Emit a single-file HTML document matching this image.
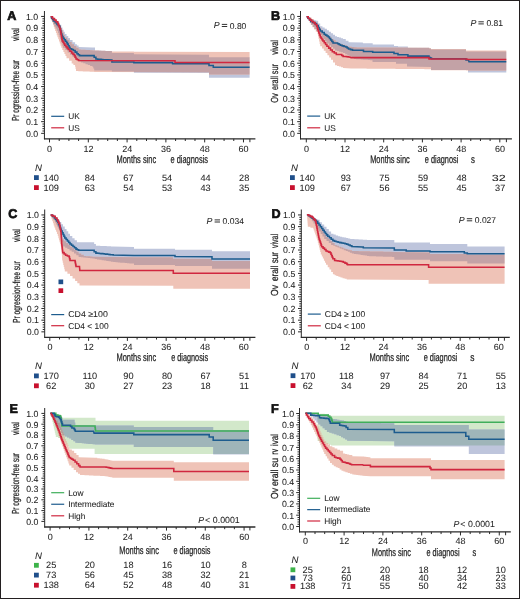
<!DOCTYPE html>
<html><head><meta charset="utf-8"><style>
html,body{margin:0;padding:0;background:#fff;}
#w{position:relative;width:520px;height:599px;overflow:hidden;background:#fff;}
#w svg{position:absolute;left:0;top:0;will-change:transform;}
#bd{position:absolute;left:0;top:0;width:520px;height:599px;box-sizing:border-box;border:1px solid #231f20;border-bottom-width:1px;}
text{font-family:"Liberation Sans", sans-serif;fill:#1e1e1e;stroke:#222;stroke-width:0.06px;text-rendering:geometricPrecision;}
</style></head><body><div id="w">
<svg width="520" height="599" viewBox="0 0 520 599" style="isolation:isolate">
<clipPath id="c1"><polygon points="50.60,16.70 53.00,16.70 53.00,18.50 55.00,18.50 55.00,20.25 57.00,20.25 57.00,22.00 59.15,22.00 59.15,24.75 61.30,24.75 61.30,27.50 62.47,27.50 62.47,29.67 63.63,29.67 63.63,31.83 64.80,31.83 64.80,34.00 66.53,34.00 66.53,36.00 68.27,36.00 68.27,38.00 70.00,38.00 70.00,40.00 72.55,40.00 72.55,42.15 75.10,42.15 75.10,44.30 76.85,44.30 76.85,45.60 78.60,45.60 78.60,46.90 92.40,47.40 95.00,47.40 95.00,50.40 97.11,50.40 97.11,50.50 99.22,50.50 99.22,50.60 101.34,50.60 101.34,50.70 103.45,50.70 103.45,50.80 105.56,50.80 105.56,50.90 107.68,50.90 107.68,51.00 109.79,51.00 109.79,51.10 111.90,51.10 111.90,51.20 111.90,53.10 133.90,53.10 133.90,54.20 209.00,54.70 209.00,57.30 249.60,57.30 249.60,77.70 209.00,77.70 209.00,72.90 133.90,72.70 133.90,71.50 111.90,71.50 111.90,70.40 94.20,70.40 94.20,68.60 93.30,68.60 93.30,66.80 92.40,66.80 92.40,65.93 90.10,65.93 90.10,65.07 87.80,65.07 87.80,64.20 85.50,64.20 85.50,63.33 83.20,63.33 83.20,62.47 80.90,62.47 80.90,61.60 78.60,61.60 78.60,59.88 76.45,59.88 76.45,58.15 74.30,58.15 74.30,56.43 72.15,56.43 72.15,54.70 70.00,54.70 70.00,52.40 67.67,52.40 67.67,50.10 65.33,50.10 65.33,47.80 63.00,47.80 63.00,45.69 62.29,45.69 62.29,43.57 61.57,43.57 61.57,41.46 60.86,41.46 60.86,39.34 60.14,39.34 60.14,37.23 59.43,37.23 59.43,35.11 58.71,35.11 58.71,33.00 58.00,33.00 58.00,30.80 56.80,30.80 56.80,28.60 55.60,28.60 55.60,26.40 54.40,26.40 54.40,24.20 53.20,24.20 53.20,22.00 52.00,22.00 52.00,19.35 51.30,19.35 51.30,16.70 50.60,16.70"/></clipPath>
<polygon points="50.60,16.70 53.00,16.70 53.00,18.50 55.00,18.50 55.00,20.25 57.00,20.25 57.00,22.00 59.15,22.00 59.15,24.75 61.30,24.75 61.30,27.50 62.47,27.50 62.47,29.67 63.63,29.67 63.63,31.83 64.80,31.83 64.80,34.00 66.53,34.00 66.53,36.00 68.27,36.00 68.27,38.00 70.00,38.00 70.00,40.00 72.55,40.00 72.55,42.15 75.10,42.15 75.10,44.30 76.85,44.30 76.85,45.60 78.60,45.60 78.60,46.90 92.40,47.40 95.00,47.40 95.00,50.40 97.11,50.40 97.11,50.50 99.22,50.50 99.22,50.60 101.34,50.60 101.34,50.70 103.45,50.70 103.45,50.80 105.56,50.80 105.56,50.90 107.68,50.90 107.68,51.00 109.79,51.00 109.79,51.10 111.90,51.10 111.90,51.20 111.90,53.10 133.90,53.10 133.90,54.20 209.00,54.70 209.00,57.30 249.60,57.30 249.60,77.70 209.00,77.70 209.00,72.90 133.90,72.70 133.90,71.50 111.90,71.50 111.90,70.40 94.20,70.40 94.20,68.60 93.30,68.60 93.30,66.80 92.40,66.80 92.40,65.93 90.10,65.93 90.10,65.07 87.80,65.07 87.80,64.20 85.50,64.20 85.50,63.33 83.20,63.33 83.20,62.47 80.90,62.47 80.90,61.60 78.60,61.60 78.60,59.88 76.45,59.88 76.45,58.15 74.30,58.15 74.30,56.43 72.15,56.43 72.15,54.70 70.00,54.70 70.00,52.40 67.67,52.40 67.67,50.10 65.33,50.10 65.33,47.80 63.00,47.80 63.00,45.69 62.29,45.69 62.29,43.57 61.57,43.57 61.57,41.46 60.86,41.46 60.86,39.34 60.14,39.34 60.14,37.23 59.43,37.23 59.43,35.11 58.71,35.11 58.71,33.00 58.00,33.00 58.00,30.80 56.80,30.80 56.80,28.60 55.60,28.60 55.60,26.40 54.40,26.40 54.40,24.20 53.20,24.20 53.20,22.00 52.00,22.00 52.00,19.35 51.30,19.35 51.30,16.70 50.60,16.70" fill="#bec5dc"/>
<polygon points="50.60,16.70 52.30,16.70 52.30,17.60 54.00,17.60 54.00,18.50 55.87,18.50 55.87,20.77 57.73,20.77 57.73,23.03 59.60,23.03 59.60,25.30 60.64,25.30 60.64,27.72 61.68,27.72 61.68,30.14 62.72,30.14 62.72,32.56 63.76,32.56 63.76,34.98 64.80,34.98 64.80,37.40 67.10,37.40 67.10,39.70 69.40,39.70 69.40,42.00 71.70,42.00 71.70,44.30 74.00,44.30 74.00,46.03 76.30,46.03 76.30,47.77 78.60,47.77 78.60,49.50 80.90,49.50 80.90,49.65 83.20,49.65 83.20,49.80 85.50,49.80 85.50,49.95 87.80,49.95 87.80,50.10 90.10,50.10 90.10,50.25 92.40,50.25 92.40,50.40 94.57,50.40 94.57,50.49 96.73,50.49 96.73,50.58 98.90,50.58 98.90,50.67 101.07,50.67 101.07,50.76 103.23,50.76 103.23,50.84 105.40,50.84 105.40,50.93 107.57,50.93 107.57,51.02 109.73,51.02 109.73,51.11 111.90,51.11 111.90,51.20 111.90,51.50 133.90,51.50 133.90,51.80 249.60,52.10 249.60,74.60 209.00,74.60 209.00,72.30 94.20,71.90 94.20,71.80 91.92,71.80 91.92,71.70 89.65,71.70 89.65,71.60 87.38,71.60 87.38,71.50 85.10,71.50 85.10,71.40 82.83,71.40 82.83,71.30 80.55,71.30 80.55,71.20 78.28,71.20 78.28,71.10 76.00,71.10 76.00,68.95 75.55,68.95 75.55,66.80 75.10,66.80 75.10,65.10 73.40,65.10 73.40,63.40 71.70,63.40 71.70,60.80 69.10,60.80 69.10,58.20 66.50,58.20 66.50,56.12 65.46,56.12 65.46,54.04 64.42,54.04 64.42,51.96 63.38,51.96 63.38,49.88 62.34,49.88 62.34,47.80 61.30,47.80 61.30,45.69 60.53,45.69 60.53,43.58 59.77,43.58 59.77,41.47 59.00,41.47 59.00,39.36 58.23,39.36 58.23,37.24 57.47,37.24 57.47,35.13 56.70,35.13 56.70,33.02 55.93,33.02 55.93,30.91 55.17,30.91 55.17,28.80 54.40,28.80 54.40,26.72 53.70,26.72 53.70,24.64 53.00,24.64 53.00,22.56 52.30,22.56 52.30,20.48 51.60,20.48 51.60,18.40 50.90,18.40 50.60,16.70" fill="#efc3b7"/>
<g clip-path="url(#c1)"><polygon points="50.60,16.70 52.30,16.70 52.30,17.60 54.00,17.60 54.00,18.50 55.87,18.50 55.87,20.77 57.73,20.77 57.73,23.03 59.60,23.03 59.60,25.30 60.64,25.30 60.64,27.72 61.68,27.72 61.68,30.14 62.72,30.14 62.72,32.56 63.76,32.56 63.76,34.98 64.80,34.98 64.80,37.40 67.10,37.40 67.10,39.70 69.40,39.70 69.40,42.00 71.70,42.00 71.70,44.30 74.00,44.30 74.00,46.03 76.30,46.03 76.30,47.77 78.60,47.77 78.60,49.50 80.90,49.50 80.90,49.65 83.20,49.65 83.20,49.80 85.50,49.80 85.50,49.95 87.80,49.95 87.80,50.10 90.10,50.10 90.10,50.25 92.40,50.25 92.40,50.40 94.57,50.40 94.57,50.49 96.73,50.49 96.73,50.58 98.90,50.58 98.90,50.67 101.07,50.67 101.07,50.76 103.23,50.76 103.23,50.84 105.40,50.84 105.40,50.93 107.57,50.93 107.57,51.02 109.73,51.02 109.73,51.11 111.90,51.11 111.90,51.20 111.90,51.50 133.90,51.50 133.90,51.80 249.60,52.10 249.60,74.60 209.00,74.60 209.00,72.30 94.20,71.90 94.20,71.80 91.92,71.80 91.92,71.70 89.65,71.70 89.65,71.60 87.38,71.60 87.38,71.50 85.10,71.50 85.10,71.40 82.83,71.40 82.83,71.30 80.55,71.30 80.55,71.20 78.28,71.20 78.28,71.10 76.00,71.10 76.00,68.95 75.55,68.95 75.55,66.80 75.10,66.80 75.10,65.10 73.40,65.10 73.40,63.40 71.70,63.40 71.70,60.80 69.10,60.80 69.10,58.20 66.50,58.20 66.50,56.12 65.46,56.12 65.46,54.04 64.42,54.04 64.42,51.96 63.38,51.96 63.38,49.88 62.34,49.88 62.34,47.80 61.30,47.80 61.30,45.69 60.53,45.69 60.53,43.58 59.77,43.58 59.77,41.47 59.00,41.47 59.00,39.36 58.23,39.36 58.23,37.24 57.47,37.24 57.47,35.13 56.70,35.13 56.70,33.02 55.93,33.02 55.93,30.91 55.17,30.91 55.17,28.80 54.40,28.80 54.40,26.72 53.70,26.72 53.70,24.64 53.00,24.64 53.00,22.56 52.30,22.56 52.30,20.48 51.60,20.48 51.60,18.40 50.90,18.40 50.60,16.70" fill="#c3a2a6"/></g>
<polyline points="50.60,16.70 51.57,16.70 51.57,18.13 52.53,18.13 52.53,19.57 53.50,19.57 53.50,21.00 55.25,21.00 55.25,22.70 57.00,22.70 57.00,24.40 58.30,24.40 58.30,25.70 59.60,25.70 59.60,27.00 60.02,27.00 60.02,28.75 60.45,28.75 60.45,30.50 60.88,30.50 60.88,32.25 61.30,32.25 61.30,34.00 61.87,34.00 61.87,35.43 62.43,35.43 62.43,36.87 63.00,36.87 63.00,38.30 64.17,38.30 64.17,39.73 65.33,39.73 65.33,41.17 66.50,41.17 66.50,42.60 67.38,42.60 67.38,44.12 68.25,44.12 68.25,45.65 69.12,45.65 69.12,47.18 70.00,47.18 70.00,48.70 71.70,48.70 71.70,49.55 73.40,49.55 73.40,50.40 75.15,50.40 75.15,52.10 76.90,52.10 76.90,53.80 78.20,53.80 78.20,54.70 79.50,54.70 79.50,55.60 92.40,55.60 94.15,55.60 94.15,57.30 95.90,57.30 95.90,59.00 97.62,59.00 97.62,59.15 99.35,59.15 99.35,59.30 101.08,59.30 101.08,59.45 102.80,59.45 102.80,59.60 111.90,60.00 111.90,61.90 133.90,61.90 133.90,62.60 172.60,62.60 172.60,63.70 209.00,63.70 209.00,65.40 213.30,65.40 213.30,67.20 249.60,67.20" fill="none" stroke="#1d5c8e" stroke-width="1.55" stroke-linejoin="miter"/>
<polyline points="50.60,16.70 52.50,16.70 52.50,18.40 54.40,18.40 54.40,20.10 56.10,20.10 56.10,21.85 57.80,21.85 57.80,23.60 58.45,23.60 58.45,25.33 59.10,25.33 59.10,27.05 59.75,27.05 59.75,28.77 60.40,28.77 60.40,30.50 60.70,30.50 60.70,32.23 61.00,32.23 61.00,33.97 61.30,33.97 61.30,35.70 61.60,35.70 61.60,37.43 61.90,37.43 61.90,39.17 62.20,39.17 62.20,40.90 63.07,40.90 63.07,42.33 63.93,42.33 63.93,43.77 64.80,43.77 64.80,45.20 65.93,45.20 65.93,46.63 67.07,46.63 67.07,48.07 68.20,48.07 68.20,49.50 69.95,49.50 69.95,51.25 71.70,51.25 71.70,53.00 73.00,53.00 73.00,54.30 74.30,54.30 74.30,55.60 75.15,55.60 75.15,57.30 76.00,57.30 76.00,59.00 77.30,59.00 77.30,59.75 78.60,59.75 78.60,60.50 175.00,60.80 175.00,62.40 249.60,62.40" fill="none" stroke="#d0273f" stroke-width="1.55" stroke-linejoin="miter"/>
<line x1="44.45" y1="11.00" x2="44.45" y2="139.30" stroke="#2a2a2a" stroke-width="1.0"/>
<line x1="43.95" y1="138.80" x2="255.40" y2="138.80" stroke="#2a2a2a" stroke-width="1.3"/>
<path d="M41.15 133.35H44.45M42.45 131.01H44.45M42.45 128.67H44.45M42.45 126.34H44.45M42.45 124.00H44.45M41.15 121.66H44.45M42.45 119.32H44.45M42.45 116.98H44.45M42.45 114.65H44.45M42.45 112.31H44.45M41.15 109.97H44.45M42.45 107.63H44.45M42.45 105.29H44.45M42.45 102.96H44.45M42.45 100.62H44.45M41.15 98.28H44.45M42.45 95.94H44.45M42.45 93.60H44.45M42.45 91.27H44.45M42.45 88.93H44.45M41.15 86.59H44.45M42.45 84.25H44.45M42.45 81.91H44.45M42.45 79.58H44.45M42.45 77.24H44.45M41.15 74.90H44.45M42.45 72.56H44.45M42.45 70.22H44.45M42.45 67.89H44.45M42.45 65.55H44.45M41.15 63.21H44.45M42.45 60.87H44.45M42.45 58.53H44.45M42.45 56.20H44.45M42.45 53.86H44.45M41.15 51.52H44.45M42.45 49.18H44.45M42.45 46.84H44.45M42.45 44.51H44.45M42.45 42.17H44.45M41.15 39.83H44.45M42.45 37.49H44.45M42.45 35.15H44.45M42.45 32.82H44.45M42.45 30.48H44.45M41.15 28.14H44.45M42.45 25.80H44.45M42.45 23.46H44.45M42.45 21.13H44.45M42.45 18.79H44.45M41.15 16.45H44.45M49.50 138.80V142.40M59.20 138.80V141.00M68.90 138.80V141.00M78.60 138.80V141.00M88.30 138.80V142.40M98.00 138.80V141.00M107.69 138.80V141.00M117.39 138.80V141.00M127.09 138.80V142.40M136.79 138.80V141.00M146.49 138.80V141.00M156.19 138.80V141.00M165.89 138.80V142.40M175.59 138.80V141.00M185.29 138.80V141.00M194.99 138.80V141.00M204.68 138.80V142.40M214.38 138.80V141.00M224.08 138.80V141.00M233.78 138.80V141.00M243.48 138.80V142.40M249.90 138.80V142.20" stroke="#2a2a2a" stroke-width="1" fill="none"/>
<text x="38.15" y="136.65" font-size="8.8" text-anchor="end" >0.0</text>
<text x="38.15" y="124.96" font-size="8.8" text-anchor="end" >0.1</text>
<text x="38.15" y="113.27" font-size="8.8" text-anchor="end" >0.2</text>
<text x="38.15" y="101.58" font-size="8.8" text-anchor="end" >0.3</text>
<text x="38.15" y="89.89" font-size="8.8" text-anchor="end" >0.4</text>
<text x="38.15" y="78.20" font-size="8.8" text-anchor="end" >0.5</text>
<text x="38.15" y="66.51" font-size="8.8" text-anchor="end" >0.6</text>
<text x="38.15" y="54.82" font-size="8.8" text-anchor="end" >0.7</text>
<text x="38.15" y="43.13" font-size="8.8" text-anchor="end" >0.8</text>
<text x="38.15" y="31.44" font-size="8.8" text-anchor="end" >0.9</text>
<text x="38.15" y="19.75" font-size="8.8" text-anchor="end" >1.0</text>
<text x="49.60" y="151.50" font-size="9.0" text-anchor="middle" >0</text>
<text x="88.40" y="151.50" font-size="9.0" text-anchor="middle" >12</text>
<text x="127.19" y="151.50" font-size="9.0" text-anchor="middle" >24</text>
<text x="165.99" y="151.50" font-size="9.0" text-anchor="middle" >36</text>
<text x="204.78" y="151.50" font-size="9.0" text-anchor="middle" >48</text>
<text x="243.58" y="151.50" font-size="9.0" text-anchor="middle" >60</text>
<clipPath id="c2"><polygon points="306.50,16.70 308.00,16.70 308.00,18.70 310.05,18.70 310.05,19.23 312.10,19.23 312.10,19.75 314.15,19.75 314.15,20.27 316.20,20.27 316.20,20.80 318.20,20.80 318.20,23.50 320.20,23.50 320.20,26.20 322.43,26.20 322.43,27.53 324.67,27.53 324.67,28.87 326.90,28.87 326.90,30.20 328.93,30.20 328.93,31.70 330.95,31.70 330.95,33.20 332.98,33.20 332.98,34.70 335.00,34.70 335.00,36.20 337.00,36.20 337.00,36.90 339.00,36.90 339.00,37.60 341.00,37.60 341.00,38.30 343.00,38.30 343.00,39.00 345.75,39.00 345.75,40.65 348.50,40.65 348.50,42.30 362.90,42.50 362.90,43.30 372.70,43.30 372.70,44.50 394.00,44.50 394.00,46.00 398.00,46.00 398.00,46.50 407.90,46.50 407.90,47.70 427.50,47.70 429.25,47.70 429.25,48.60 431.00,48.60 431.00,49.50 465.00,49.50 466.00,49.50 466.00,51.40 506.30,51.40 506.30,72.60 468.00,72.60 468.00,70.10 466.00,70.10 431.00,70.10 431.00,67.00 407.00,66.50 407.00,63.70 396.00,63.70 396.00,62.00 372.50,62.00 372.50,60.30 372.50,60.14 370.16,60.14 370.16,59.97 367.82,59.97 367.82,59.81 365.49,59.81 365.49,59.65 363.15,59.65 363.15,59.49 360.81,59.49 360.81,59.33 358.48,59.33 358.48,59.16 356.14,59.16 356.14,59.00 353.80,59.00 353.80,57.80 351.64,57.80 351.64,56.60 349.48,56.60 349.48,55.40 347.32,55.40 347.32,54.20 345.16,54.20 345.16,53.00 343.00,53.00 343.00,52.35 341.00,52.35 341.00,51.70 339.00,51.70 339.00,51.05 337.00,51.05 337.00,50.40 335.00,50.40 335.00,48.70 332.98,48.70 332.98,47.00 330.95,47.00 330.95,45.30 328.93,45.30 328.93,43.60 326.90,43.60 326.90,41.48 325.12,41.48 325.12,39.36 323.34,39.36 323.34,37.24 321.56,37.24 321.56,35.12 319.78,35.12 319.78,33.00 318.00,33.00 318.00,31.00 316.25,31.00 316.25,29.00 314.50,29.00 314.50,27.00 312.75,27.00 312.75,25.00 311.00,25.00 311.00,22.93 309.88,22.93 309.88,20.85 308.75,20.85 308.75,18.77 307.62,18.77 307.62,16.70 306.50,16.70"/></clipPath>
<polygon points="306.50,16.70 308.00,16.70 308.00,18.70 310.05,18.70 310.05,19.23 312.10,19.23 312.10,19.75 314.15,19.75 314.15,20.27 316.20,20.27 316.20,20.80 318.20,20.80 318.20,23.50 320.20,23.50 320.20,26.20 322.43,26.20 322.43,27.53 324.67,27.53 324.67,28.87 326.90,28.87 326.90,30.20 328.93,30.20 328.93,31.70 330.95,31.70 330.95,33.20 332.98,33.20 332.98,34.70 335.00,34.70 335.00,36.20 337.00,36.20 337.00,36.90 339.00,36.90 339.00,37.60 341.00,37.60 341.00,38.30 343.00,38.30 343.00,39.00 345.75,39.00 345.75,40.65 348.50,40.65 348.50,42.30 362.90,42.50 362.90,43.30 372.70,43.30 372.70,44.50 394.00,44.50 394.00,46.00 398.00,46.00 398.00,46.50 407.90,46.50 407.90,47.70 427.50,47.70 429.25,47.70 429.25,48.60 431.00,48.60 431.00,49.50 465.00,49.50 466.00,49.50 466.00,51.40 506.30,51.40 506.30,72.60 468.00,72.60 468.00,70.10 466.00,70.10 431.00,70.10 431.00,67.00 407.00,66.50 407.00,63.70 396.00,63.70 396.00,62.00 372.50,62.00 372.50,60.30 372.50,60.14 370.16,60.14 370.16,59.97 367.82,59.97 367.82,59.81 365.49,59.81 365.49,59.65 363.15,59.65 363.15,59.49 360.81,59.49 360.81,59.33 358.48,59.33 358.48,59.16 356.14,59.16 356.14,59.00 353.80,59.00 353.80,57.80 351.64,57.80 351.64,56.60 349.48,56.60 349.48,55.40 347.32,55.40 347.32,54.20 345.16,54.20 345.16,53.00 343.00,53.00 343.00,52.35 341.00,52.35 341.00,51.70 339.00,51.70 339.00,51.05 337.00,51.05 337.00,50.40 335.00,50.40 335.00,48.70 332.98,48.70 332.98,47.00 330.95,47.00 330.95,45.30 328.93,45.30 328.93,43.60 326.90,43.60 326.90,41.48 325.12,41.48 325.12,39.36 323.34,39.36 323.34,37.24 321.56,37.24 321.56,35.12 319.78,35.12 319.78,33.00 318.00,33.00 318.00,31.00 316.25,31.00 316.25,29.00 314.50,29.00 314.50,27.00 312.75,27.00 312.75,25.00 311.00,25.00 311.00,22.93 309.88,22.93 309.88,20.85 308.75,20.85 308.75,18.77 307.62,18.77 307.62,16.70 306.50,16.70" fill="#bec5dc"/>
<polygon points="306.50,16.70 309.25,16.70 309.25,17.85 312.00,17.85 312.00,19.00 313.83,19.00 313.83,20.93 315.67,20.93 315.67,22.87 317.50,22.87 317.50,24.80 318.85,24.80 318.85,26.82 320.20,26.82 320.20,28.85 321.55,28.85 321.55,30.88 322.90,30.88 322.90,32.90 325.13,32.90 325.13,34.47 327.37,34.47 327.37,36.03 329.60,36.03 329.60,37.60 331.62,37.60 331.62,38.95 333.65,38.95 333.65,40.30 335.68,40.30 335.68,41.65 337.70,41.65 337.70,43.00 340.05,43.00 340.05,43.88 342.40,43.88 342.40,44.75 344.75,44.75 344.75,45.62 347.10,45.62 347.10,46.50 349.45,46.50 349.45,46.75 351.80,46.75 351.80,47.00 354.15,47.00 354.15,47.25 356.50,47.25 356.50,47.50 427.50,47.70 429.25,47.70 429.25,48.35 431.00,48.35 431.00,49.00 465.00,49.00 466.00,49.00 466.00,50.40 506.30,50.40 506.30,70.60 466.00,70.60 466.00,70.20 431.00,70.20 431.00,69.20 431.00,69.18 428.78,69.18 428.78,69.16 426.56,69.16 426.56,69.14 424.34,69.14 424.34,69.12 422.12,69.12 422.12,69.10 419.90,69.10 419.90,69.08 417.68,69.08 417.68,69.06 415.46,69.06 415.46,69.04 413.24,69.04 413.24,69.03 411.02,69.03 411.02,69.01 408.81,69.01 408.81,68.99 406.59,68.99 406.59,68.97 404.37,68.97 404.37,68.95 402.15,68.95 402.15,68.93 399.93,68.93 399.93,68.91 397.71,68.91 397.71,68.89 395.49,68.89 395.49,68.87 393.27,68.87 393.27,68.85 391.05,68.85 391.05,68.83 388.83,68.83 388.83,68.81 386.61,68.81 386.61,68.79 384.39,68.79 384.39,68.77 382.17,68.77 382.17,68.75 379.95,68.75 379.95,68.73 377.73,68.73 377.73,68.71 375.51,68.71 375.51,68.69 373.29,68.69 373.29,68.67 371.07,68.67 371.07,68.66 368.86,68.66 368.86,68.64 366.64,68.64 366.64,68.62 364.42,68.62 364.42,68.60 362.20,68.60 362.20,68.58 359.98,68.58 359.98,68.56 357.76,68.56 357.76,68.54 355.54,68.54 355.54,68.52 353.32,68.52 353.32,68.50 351.10,68.50 343.00,67.90 343.00,67.23 341.00,67.23 341.00,66.55 339.00,66.55 339.00,65.88 337.00,65.88 337.00,65.20 335.00,65.20 335.00,62.50 333.00,62.50 333.00,59.80 331.00,59.80 331.00,57.53 329.20,57.53 329.20,55.27 327.40,55.27 327.40,53.00 325.60,53.00 325.60,50.77 323.80,50.77 323.80,48.53 322.00,48.53 322.00,46.30 320.20,46.30 320.20,43.88 319.66,43.88 319.66,41.46 319.12,41.46 319.12,39.04 318.58,39.04 318.58,36.62 318.04,36.62 318.04,34.20 317.50,34.20 317.50,31.85 315.82,31.85 315.82,29.50 314.15,29.50 314.15,27.15 312.48,27.15 312.48,24.80 310.80,24.80 310.80,22.77 309.73,22.77 309.73,20.75 308.65,20.75 308.65,18.73 307.57,18.73 307.57,16.70 306.50,16.70" fill="#efc3b7"/>
<g clip-path="url(#c2)"><polygon points="306.50,16.70 309.25,16.70 309.25,17.85 312.00,17.85 312.00,19.00 313.83,19.00 313.83,20.93 315.67,20.93 315.67,22.87 317.50,22.87 317.50,24.80 318.85,24.80 318.85,26.82 320.20,26.82 320.20,28.85 321.55,28.85 321.55,30.88 322.90,30.88 322.90,32.90 325.13,32.90 325.13,34.47 327.37,34.47 327.37,36.03 329.60,36.03 329.60,37.60 331.62,37.60 331.62,38.95 333.65,38.95 333.65,40.30 335.68,40.30 335.68,41.65 337.70,41.65 337.70,43.00 340.05,43.00 340.05,43.88 342.40,43.88 342.40,44.75 344.75,44.75 344.75,45.62 347.10,45.62 347.10,46.50 349.45,46.50 349.45,46.75 351.80,46.75 351.80,47.00 354.15,47.00 354.15,47.25 356.50,47.25 356.50,47.50 427.50,47.70 429.25,47.70 429.25,48.35 431.00,48.35 431.00,49.00 465.00,49.00 466.00,49.00 466.00,50.40 506.30,50.40 506.30,70.60 466.00,70.60 466.00,70.20 431.00,70.20 431.00,69.20 431.00,69.18 428.78,69.18 428.78,69.16 426.56,69.16 426.56,69.14 424.34,69.14 424.34,69.12 422.12,69.12 422.12,69.10 419.90,69.10 419.90,69.08 417.68,69.08 417.68,69.06 415.46,69.06 415.46,69.04 413.24,69.04 413.24,69.03 411.02,69.03 411.02,69.01 408.81,69.01 408.81,68.99 406.59,68.99 406.59,68.97 404.37,68.97 404.37,68.95 402.15,68.95 402.15,68.93 399.93,68.93 399.93,68.91 397.71,68.91 397.71,68.89 395.49,68.89 395.49,68.87 393.27,68.87 393.27,68.85 391.05,68.85 391.05,68.83 388.83,68.83 388.83,68.81 386.61,68.81 386.61,68.79 384.39,68.79 384.39,68.77 382.17,68.77 382.17,68.75 379.95,68.75 379.95,68.73 377.73,68.73 377.73,68.71 375.51,68.71 375.51,68.69 373.29,68.69 373.29,68.67 371.07,68.67 371.07,68.66 368.86,68.66 368.86,68.64 366.64,68.64 366.64,68.62 364.42,68.62 364.42,68.60 362.20,68.60 362.20,68.58 359.98,68.58 359.98,68.56 357.76,68.56 357.76,68.54 355.54,68.54 355.54,68.52 353.32,68.52 353.32,68.50 351.10,68.50 343.00,67.90 343.00,67.23 341.00,67.23 341.00,66.55 339.00,66.55 339.00,65.88 337.00,65.88 337.00,65.20 335.00,65.20 335.00,62.50 333.00,62.50 333.00,59.80 331.00,59.80 331.00,57.53 329.20,57.53 329.20,55.27 327.40,55.27 327.40,53.00 325.60,53.00 325.60,50.77 323.80,50.77 323.80,48.53 322.00,48.53 322.00,46.30 320.20,46.30 320.20,43.88 319.66,43.88 319.66,41.46 319.12,41.46 319.12,39.04 318.58,39.04 318.58,36.62 318.04,36.62 318.04,34.20 317.50,34.20 317.50,31.85 315.82,31.85 315.82,29.50 314.15,29.50 314.15,27.15 312.48,27.15 312.48,24.80 310.80,24.80 310.80,22.77 309.73,22.77 309.73,20.75 308.65,20.75 308.65,18.73 307.57,18.73 307.57,16.70 306.50,16.70" fill="#c3a2a6"/></g>
<polyline points="306.50,16.70 307.93,16.70 307.93,18.27 309.37,18.27 309.37,19.83 310.80,19.83 310.80,21.40 312.80,21.40 312.80,22.45 314.80,22.45 314.80,23.50 316.50,23.50 316.50,25.50 318.20,25.50 318.20,27.50 319.20,27.50 319.20,29.20 320.20,29.20 320.20,30.90 322.20,30.90 322.20,32.55 324.20,32.55 324.20,34.20 325.57,34.20 325.57,35.10 326.93,35.10 326.93,36.00 328.30,36.00 328.30,36.90 329.48,36.90 329.48,38.42 330.65,38.42 330.65,39.95 331.82,39.95 331.82,41.48 333.00,41.48 333.00,43.00 336.30,43.00 337.67,43.00 337.67,43.77 339.03,43.77 339.03,44.53 340.40,44.53 340.40,45.30 342.20,45.30 342.20,45.87 344.00,45.87 344.00,46.43 345.80,46.43 345.80,47.00 347.15,47.00 347.15,48.00 348.50,48.00 348.50,49.00 350.50,49.00 350.50,49.60 352.50,49.60 352.50,50.20 363.50,50.20 363.50,51.40 372.70,51.40 372.70,52.30 394.00,52.30 394.00,53.50 398.00,53.50 398.00,54.80 407.90,54.80 407.90,56.10 426.80,56.10 429.00,56.10 429.00,57.50 430.25,57.50 430.25,58.10 431.50,58.10 431.50,58.70 465.00,58.70 466.00,58.70 466.00,60.00 468.50,60.00 469.00,61.80 506.30,61.80" fill="none" stroke="#1d5c8e" stroke-width="1.55" stroke-linejoin="miter"/>
<polyline points="306.50,16.70 308.25,16.70 308.25,18.40 310.00,18.40 310.00,20.10 311.75,20.10 311.75,21.45 313.50,21.45 313.50,22.80 315.15,22.80 315.15,24.50 316.80,24.50 316.80,26.20 317.30,26.20 317.30,27.88 317.80,27.88 317.80,29.55 318.30,29.55 318.30,31.22 318.80,31.22 318.80,32.90 319.50,32.90 319.50,34.90 320.20,34.90 320.20,36.90 321.10,36.90 321.10,38.27 322.00,38.27 322.00,39.63 322.90,39.63 322.90,41.00 324.23,41.00 324.23,42.77 325.57,42.77 325.57,44.53 326.90,44.53 326.90,46.30 328.70,46.30 328.70,48.10 330.50,48.10 330.50,49.90 332.30,49.90 332.30,51.70 334.30,51.70 334.30,53.05 336.30,53.05 336.30,54.40 340.40,54.40 341.75,54.40 341.75,55.40 343.10,55.40 343.10,56.40 344.77,56.40 344.77,56.58 346.45,56.58 346.45,56.75 348.12,56.75 348.12,56.92 349.80,56.92 349.80,57.10 351.10,57.60 428.00,57.60 429.00,57.60 429.00,58.90 466.00,58.90 467.00,58.90 467.00,59.50 506.30,59.50" fill="none" stroke="#d0273f" stroke-width="1.55" stroke-linejoin="miter"/>
<line x1="300.50" y1="11.00" x2="300.50" y2="139.30" stroke="#2a2a2a" stroke-width="1.0"/>
<line x1="300.00" y1="138.80" x2="511.90" y2="138.80" stroke="#2a2a2a" stroke-width="1.3"/>
<path d="M297.20 133.35H300.50M298.50 131.01H300.50M298.50 128.67H300.50M298.50 126.34H300.50M298.50 124.00H300.50M297.20 121.66H300.50M298.50 119.32H300.50M298.50 116.98H300.50M298.50 114.65H300.50M298.50 112.31H300.50M297.20 109.97H300.50M298.50 107.63H300.50M298.50 105.29H300.50M298.50 102.96H300.50M298.50 100.62H300.50M297.20 98.28H300.50M298.50 95.94H300.50M298.50 93.60H300.50M298.50 91.27H300.50M298.50 88.93H300.50M297.20 86.59H300.50M298.50 84.25H300.50M298.50 81.91H300.50M298.50 79.58H300.50M298.50 77.24H300.50M297.20 74.90H300.50M298.50 72.56H300.50M298.50 70.22H300.50M298.50 67.89H300.50M298.50 65.55H300.50M297.20 63.21H300.50M298.50 60.87H300.50M298.50 58.53H300.50M298.50 56.20H300.50M298.50 53.86H300.50M297.20 51.52H300.50M298.50 49.18H300.50M298.50 46.84H300.50M298.50 44.51H300.50M298.50 42.17H300.50M297.20 39.83H300.50M298.50 37.49H300.50M298.50 35.15H300.50M298.50 32.82H300.50M298.50 30.48H300.50M297.20 28.14H300.50M298.50 25.80H300.50M298.50 23.46H300.50M298.50 21.13H300.50M298.50 18.79H300.50M297.20 16.45H300.50M306.30 138.80V142.40M315.98 138.80V141.00M325.65 138.80V141.00M335.32 138.80V141.00M345.00 138.80V142.40M354.68 138.80V141.00M364.35 138.80V141.00M374.02 138.80V141.00M383.70 138.80V142.40M393.38 138.80V141.00M403.05 138.80V141.00M412.73 138.80V141.00M422.40 138.80V142.40M432.07 138.80V141.00M441.75 138.80V141.00M451.43 138.80V141.00M461.10 138.80V142.40M470.77 138.80V141.00M480.45 138.80V141.00M490.12 138.80V141.00M499.80 138.80V142.40M506.40 138.80V142.20" stroke="#2a2a2a" stroke-width="1" fill="none"/>
<text x="295.00" y="136.65" font-size="8.8" text-anchor="end" >0.0</text>
<text x="295.00" y="124.96" font-size="8.8" text-anchor="end" >0.1</text>
<text x="295.00" y="113.27" font-size="8.8" text-anchor="end" >0.2</text>
<text x="295.00" y="101.58" font-size="8.8" text-anchor="end" >0.3</text>
<text x="295.00" y="89.89" font-size="8.8" text-anchor="end" >0.4</text>
<text x="295.00" y="78.20" font-size="8.8" text-anchor="end" >0.5</text>
<text x="295.00" y="66.51" font-size="8.8" text-anchor="end" >0.6</text>
<text x="295.00" y="54.82" font-size="8.8" text-anchor="end" >0.7</text>
<text x="295.00" y="43.13" font-size="8.8" text-anchor="end" >0.8</text>
<text x="295.00" y="31.44" font-size="8.8" text-anchor="end" >0.9</text>
<text x="295.00" y="19.75" font-size="8.8" text-anchor="end" >1.0</text>
<text x="306.40" y="151.50" font-size="9.0" text-anchor="middle" >0</text>
<text x="345.10" y="151.50" font-size="9.0" text-anchor="middle" >12</text>
<text x="383.80" y="151.50" font-size="9.0" text-anchor="middle" >24</text>
<text x="422.50" y="151.50" font-size="9.0" text-anchor="middle" >36</text>
<text x="461.20" y="151.50" font-size="9.0" text-anchor="middle" >48</text>
<text x="499.90" y="151.50" font-size="9.0" text-anchor="middle" >60</text>
<clipPath id="c3"><polygon points="50.60,215.00 51.80,215.40 53.80,215.40 53.80,216.83 55.80,216.83 55.80,218.27 57.80,218.27 57.80,219.70 59.53,219.70 59.53,222.00 61.27,222.00 61.27,224.30 63.00,224.30 63.00,226.60 64.75,226.60 64.75,228.97 66.50,228.97 66.50,231.35 68.25,231.35 68.25,233.72 70.00,233.72 70.00,236.10 72.30,236.10 72.30,238.13 74.60,238.13 74.60,240.17 76.90,240.17 76.90,242.20 92.40,242.20 94.15,242.20 94.15,243.95 95.90,243.95 95.90,245.70 98.06,245.70 98.06,245.80 100.23,245.80 100.23,245.90 102.39,245.90 102.39,246.00 104.55,246.00 104.55,246.10 106.71,246.10 106.71,246.20 108.88,246.20 108.88,246.30 111.04,246.30 111.04,246.40 113.20,246.40 113.20,246.50 134.00,247.00 134.00,248.70 175.00,248.70 175.00,249.70 212.00,249.70 212.00,251.30 250.00,251.30 250.00,268.70 212.00,268.70 212.00,266.00 175.00,266.00 175.00,265.10 134.00,265.10 134.00,263.80 134.00,263.61 131.69,263.61 131.69,263.42 129.38,263.42 129.38,263.23 127.07,263.23 127.07,263.04 124.76,263.04 124.76,262.86 122.44,262.86 122.44,262.67 120.13,262.67 120.13,262.48 117.82,262.48 117.82,262.29 115.51,262.29 115.51,262.10 113.20,262.10 113.20,261.71 110.89,261.71 110.89,261.32 108.58,261.32 108.58,260.93 106.27,260.93 106.27,260.54 103.96,260.54 103.96,260.16 101.64,260.16 101.64,259.77 99.33,259.77 99.33,259.38 97.02,259.38 97.02,258.99 94.71,258.99 94.71,258.60 92.40,258.60 92.40,258.32 90.10,258.32 90.10,258.03 87.80,258.03 87.80,257.75 85.50,257.75 85.50,257.47 83.20,257.47 83.20,257.18 80.90,257.18 80.90,256.90 78.60,256.90 78.60,255.17 76.30,255.17 76.30,253.43 74.00,253.43 74.00,251.70 71.70,251.70 71.70,250.40 69.53,250.40 69.53,249.10 67.35,249.10 67.35,247.80 65.17,247.80 65.17,246.50 63.00,246.50 63.00,244.17 62.50,244.17 62.50,241.83 62.00,241.83 62.00,239.50 61.50,239.50 61.50,237.17 61.00,237.17 61.00,234.83 60.50,234.83 60.50,232.50 60.00,232.50 60.00,230.50 59.00,230.50 59.00,228.50 58.00,228.50 58.00,226.50 57.00,226.50 57.00,224.50 56.00,224.50 56.00,222.50 55.00,222.50 55.00,220.00 53.53,220.00 53.53,217.50 52.07,217.50 52.07,215.00 50.60,215.00"/></clipPath>
<polygon points="50.60,215.00 51.80,215.40 53.80,215.40 53.80,216.83 55.80,216.83 55.80,218.27 57.80,218.27 57.80,219.70 59.53,219.70 59.53,222.00 61.27,222.00 61.27,224.30 63.00,224.30 63.00,226.60 64.75,226.60 64.75,228.97 66.50,228.97 66.50,231.35 68.25,231.35 68.25,233.72 70.00,233.72 70.00,236.10 72.30,236.10 72.30,238.13 74.60,238.13 74.60,240.17 76.90,240.17 76.90,242.20 92.40,242.20 94.15,242.20 94.15,243.95 95.90,243.95 95.90,245.70 98.06,245.70 98.06,245.80 100.23,245.80 100.23,245.90 102.39,245.90 102.39,246.00 104.55,246.00 104.55,246.10 106.71,246.10 106.71,246.20 108.88,246.20 108.88,246.30 111.04,246.30 111.04,246.40 113.20,246.40 113.20,246.50 134.00,247.00 134.00,248.70 175.00,248.70 175.00,249.70 212.00,249.70 212.00,251.30 250.00,251.30 250.00,268.70 212.00,268.70 212.00,266.00 175.00,266.00 175.00,265.10 134.00,265.10 134.00,263.80 134.00,263.61 131.69,263.61 131.69,263.42 129.38,263.42 129.38,263.23 127.07,263.23 127.07,263.04 124.76,263.04 124.76,262.86 122.44,262.86 122.44,262.67 120.13,262.67 120.13,262.48 117.82,262.48 117.82,262.29 115.51,262.29 115.51,262.10 113.20,262.10 113.20,261.71 110.89,261.71 110.89,261.32 108.58,261.32 108.58,260.93 106.27,260.93 106.27,260.54 103.96,260.54 103.96,260.16 101.64,260.16 101.64,259.77 99.33,259.77 99.33,259.38 97.02,259.38 97.02,258.99 94.71,258.99 94.71,258.60 92.40,258.60 92.40,258.32 90.10,258.32 90.10,258.03 87.80,258.03 87.80,257.75 85.50,257.75 85.50,257.47 83.20,257.47 83.20,257.18 80.90,257.18 80.90,256.90 78.60,256.90 78.60,255.17 76.30,255.17 76.30,253.43 74.00,253.43 74.00,251.70 71.70,251.70 71.70,250.40 69.53,250.40 69.53,249.10 67.35,249.10 67.35,247.80 65.17,247.80 65.17,246.50 63.00,246.50 63.00,244.17 62.50,244.17 62.50,241.83 62.00,241.83 62.00,239.50 61.50,239.50 61.50,237.17 61.00,237.17 61.00,234.83 60.50,234.83 60.50,232.50 60.00,232.50 60.00,230.50 59.00,230.50 59.00,228.50 58.00,228.50 58.00,226.50 57.00,226.50 57.00,224.50 56.00,224.50 56.00,222.50 55.00,222.50 55.00,220.00 53.53,220.00 53.53,217.50 52.07,217.50 52.07,215.00 50.60,215.00" fill="#bec5dc"/>
<polygon points="50.60,215.00 52.80,215.00 52.80,216.25 55.00,216.25 55.00,217.50 57.00,217.50 57.00,219.50 59.00,219.50 59.00,221.50 59.40,221.50 59.40,223.76 59.80,223.76 59.80,226.03 60.20,226.03 60.20,228.29 60.60,228.29 60.60,230.55 61.00,230.55 61.00,232.81 61.40,232.81 61.40,235.07 61.80,235.07 61.80,237.34 62.20,237.34 62.20,239.60 64.15,239.60 64.15,241.32 66.10,241.32 66.10,243.05 68.05,243.05 68.05,244.78 70.00,244.78 70.00,246.50 72.15,246.50 72.15,248.22 74.30,248.22 74.30,249.95 76.45,249.95 76.45,251.68 78.60,251.68 78.60,253.40 81.20,253.40 81.20,254.70 83.80,254.70 83.80,256.00 85.95,256.00 85.95,256.18 88.10,256.18 88.10,256.35 90.25,256.35 90.25,256.52 92.40,256.52 92.40,256.70 134.00,257.30 173.00,257.30 173.00,258.80 212.00,259.00 212.00,261.10 250.00,261.10 250.00,288.70 173.30,288.70 173.30,285.70 79.50,285.50 79.50,283.30 77.30,283.30 77.30,281.10 75.10,281.10 75.10,278.55 72.55,278.55 72.55,276.00 70.00,276.00 70.00,273.80 67.40,273.80 67.40,271.60 64.80,271.60 64.80,269.36 64.28,269.36 64.28,267.12 63.76,267.12 63.76,264.88 63.24,264.88 63.24,262.64 62.72,262.64 62.72,260.40 62.20,260.40 62.20,258.38 62.05,258.38 62.05,256.37 61.90,256.37 61.90,254.35 61.75,254.35 61.75,252.33 61.60,252.33 61.60,250.32 61.45,250.32 61.45,248.30 61.30,248.30 61.30,246.27 60.72,246.27 60.72,244.23 60.13,244.23 60.13,242.20 59.55,242.20 59.55,240.17 58.97,240.17 58.97,238.13 58.38,238.13 58.38,236.10 57.80,236.10 57.80,233.95 56.95,233.95 56.95,231.80 56.10,231.80 56.10,229.65 55.25,229.65 55.25,227.50 54.40,227.50 54.40,225.42 53.70,225.42 53.70,223.34 53.00,223.34 53.00,221.26 52.30,221.26 52.30,219.18 51.60,219.18 51.60,217.10 50.90,217.10 50.60,215.00" fill="#efc3b7"/>
<g clip-path="url(#c3)"><polygon points="50.60,215.00 52.80,215.00 52.80,216.25 55.00,216.25 55.00,217.50 57.00,217.50 57.00,219.50 59.00,219.50 59.00,221.50 59.40,221.50 59.40,223.76 59.80,223.76 59.80,226.03 60.20,226.03 60.20,228.29 60.60,228.29 60.60,230.55 61.00,230.55 61.00,232.81 61.40,232.81 61.40,235.07 61.80,235.07 61.80,237.34 62.20,237.34 62.20,239.60 64.15,239.60 64.15,241.32 66.10,241.32 66.10,243.05 68.05,243.05 68.05,244.78 70.00,244.78 70.00,246.50 72.15,246.50 72.15,248.22 74.30,248.22 74.30,249.95 76.45,249.95 76.45,251.68 78.60,251.68 78.60,253.40 81.20,253.40 81.20,254.70 83.80,254.70 83.80,256.00 85.95,256.00 85.95,256.18 88.10,256.18 88.10,256.35 90.25,256.35 90.25,256.52 92.40,256.52 92.40,256.70 134.00,257.30 173.00,257.30 173.00,258.80 212.00,259.00 212.00,261.10 250.00,261.10 250.00,288.70 173.30,288.70 173.30,285.70 79.50,285.50 79.50,283.30 77.30,283.30 77.30,281.10 75.10,281.10 75.10,278.55 72.55,278.55 72.55,276.00 70.00,276.00 70.00,273.80 67.40,273.80 67.40,271.60 64.80,271.60 64.80,269.36 64.28,269.36 64.28,267.12 63.76,267.12 63.76,264.88 63.24,264.88 63.24,262.64 62.72,262.64 62.72,260.40 62.20,260.40 62.20,258.38 62.05,258.38 62.05,256.37 61.90,256.37 61.90,254.35 61.75,254.35 61.75,252.33 61.60,252.33 61.60,250.32 61.45,250.32 61.45,248.30 61.30,248.30 61.30,246.27 60.72,246.27 60.72,244.23 60.13,244.23 60.13,242.20 59.55,242.20 59.55,240.17 58.97,240.17 58.97,238.13 58.38,238.13 58.38,236.10 57.80,236.10 57.80,233.95 56.95,233.95 56.95,231.80 56.10,231.80 56.10,229.65 55.25,229.65 55.25,227.50 54.40,227.50 54.40,225.42 53.70,225.42 53.70,223.34 53.00,223.34 53.00,221.26 52.30,221.26 52.30,219.18 51.60,219.18 51.60,217.10 50.90,217.10 50.60,215.00" fill="#c3a2a6"/></g>
<polyline points="50.60,215.00 52.50,215.00 52.50,216.50 54.40,216.50 54.40,218.00 55.53,218.00 55.53,219.43 56.67,219.43 56.67,220.87 57.80,220.87 57.80,222.30 58.50,222.30 58.50,224.04 59.20,224.04 59.20,225.78 59.90,225.78 59.90,227.52 60.60,227.52 60.60,229.26 61.30,229.26 61.30,231.00 62.17,231.00 62.17,232.72 63.05,232.72 63.05,234.45 63.92,234.45 63.92,236.18 64.80,236.18 64.80,237.90 66.10,237.90 66.10,239.40 67.40,239.40 67.40,240.90 68.70,240.90 68.70,242.40 70.00,242.40 70.00,243.90 71.50,243.90 71.50,245.20 73.00,245.20 73.00,246.50 74.50,246.50 74.50,247.80 76.00,247.80 76.00,249.10 77.30,249.10 77.30,249.70 78.60,249.70 78.60,250.30 92.40,250.30 94.15,250.30 94.15,251.70 95.90,251.70 95.90,253.10 97.62,253.10 97.62,253.28 99.35,253.28 99.35,253.45 101.08,253.45 101.08,253.62 102.80,253.62 102.80,253.80 104.29,253.80 104.29,253.97 105.77,253.97 105.77,254.14 107.26,254.14 107.26,254.31 108.74,254.31 108.74,254.49 110.23,254.49 110.23,254.66 111.71,254.66 111.71,254.83 113.20,254.83 113.20,255.00 134.00,255.40 175.00,255.50 175.00,256.50 212.00,256.70 212.00,258.90 250.00,258.90" fill="none" stroke="#1d5c8e" stroke-width="1.55" stroke-linejoin="miter"/>
<polyline points="50.60,215.00 52.05,215.00 52.05,215.60 53.50,215.60 53.50,216.20 55.25,216.20 55.25,217.95 57.00,217.95 57.00,219.70 57.87,219.70 57.87,221.43 58.73,221.43 58.73,223.17 59.60,223.17 59.60,224.90 59.88,224.90 59.88,226.46 60.16,226.46 60.16,228.02 60.44,228.02 60.44,229.58 60.72,229.58 60.72,231.14 61.00,231.14 61.00,232.70 61.10,232.70 61.10,234.21 61.20,234.21 61.20,235.72 61.30,235.72 61.30,237.24 61.40,237.24 61.40,238.75 61.50,238.75 61.50,240.26 61.60,240.26 61.60,241.78 61.70,241.78 61.70,243.29 61.80,243.29 61.80,244.80 61.98,244.80 61.98,246.36 62.16,246.36 62.16,247.92 62.34,247.92 62.34,249.48 62.52,249.48 62.52,251.04 62.70,251.04 62.70,252.60 64.15,252.60 64.15,253.90 65.60,253.90 65.60,255.20 67.35,255.20 67.35,256.05 69.10,256.05 69.10,256.90 69.55,256.90 69.55,258.65 70.00,258.65 70.00,260.40 74.80,260.40 75.10,260.40 75.10,261.90 75.40,261.90 75.40,263.40 75.70,263.40 75.70,264.90 76.00,264.90 76.00,266.40 79.50,266.40 79.80,270.40 173.30,270.40 173.30,273.30 250.00,273.30" fill="none" stroke="#d0273f" stroke-width="1.55" stroke-linejoin="miter"/>
<line x1="44.70" y1="209.50" x2="44.70" y2="337.80" stroke="#2a2a2a" stroke-width="1.0"/>
<line x1="44.20" y1="337.30" x2="255.40" y2="337.30" stroke="#2a2a2a" stroke-width="1.3"/>
<path d="M41.40 331.85H44.70M42.70 329.51H44.70M42.70 327.17H44.70M42.70 324.84H44.70M42.70 322.50H44.70M41.40 320.16H44.70M42.70 317.82H44.70M42.70 315.48H44.70M42.70 313.15H44.70M42.70 310.81H44.70M41.40 308.47H44.70M42.70 306.13H44.70M42.70 303.79H44.70M42.70 301.46H44.70M42.70 299.12H44.70M41.40 296.78H44.70M42.70 294.44H44.70M42.70 292.10H44.70M42.70 289.77H44.70M42.70 287.43H44.70M41.40 285.09H44.70M42.70 282.75H44.70M42.70 280.41H44.70M42.70 278.08H44.70M42.70 275.74H44.70M41.40 273.40H44.70M42.70 271.06H44.70M42.70 268.72H44.70M42.70 266.39H44.70M42.70 264.05H44.70M41.40 261.71H44.70M42.70 259.37H44.70M42.70 257.03H44.70M42.70 254.70H44.70M42.70 252.36H44.70M41.40 250.02H44.70M42.70 247.68H44.70M42.70 245.34H44.70M42.70 243.01H44.70M42.70 240.67H44.70M41.40 238.33H44.70M42.70 235.99H44.70M42.70 233.65H44.70M42.70 231.32H44.70M42.70 228.98H44.70M41.40 226.64H44.70M42.70 224.30H44.70M42.70 221.96H44.70M42.70 219.63H44.70M42.70 217.29H44.70M41.40 214.95H44.70M49.80 337.30V340.90M59.50 337.30V339.50M69.20 337.30V339.50M78.90 337.30V339.50M88.60 337.30V340.90M98.30 337.30V339.50M107.99 337.30V339.50M117.69 337.30V339.50M127.39 337.30V340.90M137.09 337.30V339.50M146.79 337.30V339.50M156.49 337.30V339.50M166.19 337.30V340.90M175.89 337.30V339.50M185.59 337.30V339.50M195.29 337.30V339.50M204.98 337.30V340.90M214.68 337.30V339.50M224.38 337.30V339.50M234.08 337.30V339.50M243.78 337.30V340.90M249.90 337.30V340.70" stroke="#2a2a2a" stroke-width="1" fill="none"/>
<text x="39.00" y="335.15" font-size="8.8" text-anchor="end" >0.0</text>
<text x="39.00" y="323.46" font-size="8.8" text-anchor="end" >0.1</text>
<text x="39.00" y="311.77" font-size="8.8" text-anchor="end" >0.2</text>
<text x="39.00" y="300.08" font-size="8.8" text-anchor="end" >0.3</text>
<text x="39.00" y="288.39" font-size="8.8" text-anchor="end" >0.4</text>
<text x="39.00" y="276.70" font-size="8.8" text-anchor="end" >0.5</text>
<text x="39.00" y="265.01" font-size="8.8" text-anchor="end" >0.6</text>
<text x="39.00" y="253.32" font-size="8.8" text-anchor="end" >0.7</text>
<text x="39.00" y="241.63" font-size="8.8" text-anchor="end" >0.8</text>
<text x="39.00" y="229.94" font-size="8.8" text-anchor="end" >0.9</text>
<text x="39.00" y="218.25" font-size="8.8" text-anchor="end" >1.0</text>
<text x="49.90" y="350.00" font-size="9.0" text-anchor="middle" >0</text>
<text x="88.70" y="350.00" font-size="9.0" text-anchor="middle" >12</text>
<text x="127.49" y="350.00" font-size="9.0" text-anchor="middle" >24</text>
<text x="166.29" y="350.00" font-size="9.0" text-anchor="middle" >36</text>
<text x="205.08" y="350.00" font-size="9.0" text-anchor="middle" >48</text>
<text x="243.88" y="350.00" font-size="9.0" text-anchor="middle" >60</text>
<clipPath id="c4"><polygon points="306.90,214.70 308.70,214.70 308.70,216.40 310.85,216.40 310.85,217.25 313.00,217.25 313.00,218.10 315.15,218.10 315.15,218.95 317.30,218.95 317.30,219.80 319.60,219.80 319.60,222.13 321.90,222.13 321.90,224.47 324.20,224.47 324.20,226.80 326.50,226.80 326.50,229.10 328.80,229.10 328.80,231.40 331.10,231.40 331.10,233.70 333.43,233.70 333.43,234.57 335.77,234.57 335.77,235.43 338.10,235.43 338.10,236.30 340.12,236.30 340.12,236.73 342.13,236.73 342.13,237.17 344.15,237.17 344.15,237.60 346.17,237.60 346.17,238.03 348.18,238.03 348.18,238.47 350.20,238.47 350.20,238.90 352.31,238.90 352.31,239.02 354.42,239.02 354.42,239.14 356.53,239.14 356.53,239.27 358.64,239.27 358.64,239.39 360.76,239.39 360.76,239.51 362.87,239.51 362.87,239.63 364.98,239.63 364.98,239.76 367.09,239.76 367.09,239.88 369.20,239.88 369.20,240.00 394.30,240.00 394.30,242.50 430.00,242.50 430.00,244.00 464.30,244.00 467.30,244.00 467.30,246.40 504.60,246.40 504.60,263.40 467.30,263.40 467.30,261.30 430.00,261.30 430.00,259.80 394.30,259.80 394.30,257.00 394.30,256.93 392.02,256.93 392.02,256.85 389.74,256.85 389.74,256.78 387.45,256.78 387.45,256.71 385.17,256.71 385.17,256.64 382.89,256.64 382.89,256.56 380.61,256.56 380.61,256.49 378.33,256.49 378.33,256.42 376.05,256.42 376.05,256.35 373.76,256.35 373.76,256.27 371.48,256.27 371.48,256.20 369.20,256.20 369.20,255.88 367.04,255.88 367.04,255.55 364.88,255.55 364.88,255.22 362.71,255.22 362.71,254.90 360.55,254.90 360.55,254.57 358.39,254.57 358.39,254.25 356.23,254.25 356.23,253.93 354.06,253.93 354.06,253.60 351.90,253.60 351.90,252.73 349.88,252.73 349.88,251.87 347.87,251.87 347.87,251.00 345.85,251.00 345.85,250.13 343.83,250.13 343.83,249.27 341.82,249.27 341.82,248.40 339.80,248.40 339.80,247.53 337.62,247.53 337.62,246.65 335.45,246.65 335.45,245.78 333.27,245.78 333.27,244.90 331.10,244.90 331.10,242.90 328.80,242.90 328.80,240.90 326.50,240.90 326.50,238.90 324.20,238.90 324.20,236.43 322.47,236.43 322.47,233.97 320.73,233.97 320.73,231.50 319.00,231.50 319.00,229.50 317.62,229.50 317.62,227.50 316.25,227.50 316.25,225.50 314.88,225.50 314.88,223.50 313.50,223.50 313.50,221.30 311.85,221.30 311.85,219.10 310.20,219.10 310.20,216.90 308.55,216.90 308.55,214.70 306.90,214.70"/></clipPath>
<polygon points="306.90,214.70 308.70,214.70 308.70,216.40 310.85,216.40 310.85,217.25 313.00,217.25 313.00,218.10 315.15,218.10 315.15,218.95 317.30,218.95 317.30,219.80 319.60,219.80 319.60,222.13 321.90,222.13 321.90,224.47 324.20,224.47 324.20,226.80 326.50,226.80 326.50,229.10 328.80,229.10 328.80,231.40 331.10,231.40 331.10,233.70 333.43,233.70 333.43,234.57 335.77,234.57 335.77,235.43 338.10,235.43 338.10,236.30 340.12,236.30 340.12,236.73 342.13,236.73 342.13,237.17 344.15,237.17 344.15,237.60 346.17,237.60 346.17,238.03 348.18,238.03 348.18,238.47 350.20,238.47 350.20,238.90 352.31,238.90 352.31,239.02 354.42,239.02 354.42,239.14 356.53,239.14 356.53,239.27 358.64,239.27 358.64,239.39 360.76,239.39 360.76,239.51 362.87,239.51 362.87,239.63 364.98,239.63 364.98,239.76 367.09,239.76 367.09,239.88 369.20,239.88 369.20,240.00 394.30,240.00 394.30,242.50 430.00,242.50 430.00,244.00 464.30,244.00 467.30,244.00 467.30,246.40 504.60,246.40 504.60,263.40 467.30,263.40 467.30,261.30 430.00,261.30 430.00,259.80 394.30,259.80 394.30,257.00 394.30,256.93 392.02,256.93 392.02,256.85 389.74,256.85 389.74,256.78 387.45,256.78 387.45,256.71 385.17,256.71 385.17,256.64 382.89,256.64 382.89,256.56 380.61,256.56 380.61,256.49 378.33,256.49 378.33,256.42 376.05,256.42 376.05,256.35 373.76,256.35 373.76,256.27 371.48,256.27 371.48,256.20 369.20,256.20 369.20,255.88 367.04,255.88 367.04,255.55 364.88,255.55 364.88,255.22 362.71,255.22 362.71,254.90 360.55,254.90 360.55,254.57 358.39,254.57 358.39,254.25 356.23,254.25 356.23,253.93 354.06,253.93 354.06,253.60 351.90,253.60 351.90,252.73 349.88,252.73 349.88,251.87 347.87,251.87 347.87,251.00 345.85,251.00 345.85,250.13 343.83,250.13 343.83,249.27 341.82,249.27 341.82,248.40 339.80,248.40 339.80,247.53 337.62,247.53 337.62,246.65 335.45,246.65 335.45,245.78 333.27,245.78 333.27,244.90 331.10,244.90 331.10,242.90 328.80,242.90 328.80,240.90 326.50,240.90 326.50,238.90 324.20,238.90 324.20,236.43 322.47,236.43 322.47,233.97 320.73,233.97 320.73,231.50 319.00,231.50 319.00,229.50 317.62,229.50 317.62,227.50 316.25,227.50 316.25,225.50 314.88,225.50 314.88,223.50 313.50,223.50 313.50,221.30 311.85,221.30 311.85,219.10 310.20,219.10 310.20,216.90 308.55,216.90 308.55,214.70 306.90,214.70" fill="#bec5dc"/>
<polygon points="306.90,214.70 309.45,214.70 309.45,215.85 312.00,215.85 312.00,217.00 314.10,217.00 314.10,218.75 316.20,218.75 316.20,220.50 317.13,220.50 317.13,222.60 318.07,222.60 318.07,224.70 319.00,224.70 319.00,226.80 320.40,226.80 320.40,228.86 321.80,228.86 321.80,230.92 323.20,230.92 323.20,232.98 324.60,232.98 324.60,235.04 326.00,235.04 326.00,237.10 328.15,237.10 328.15,239.05 330.30,239.05 330.30,241.00 332.45,241.00 332.45,242.95 334.60,242.95 334.60,244.90 336.77,244.90 336.77,245.78 338.95,245.78 338.95,246.65 341.12,246.65 341.12,247.53 343.30,247.53 343.30,248.40 345.45,248.40 345.45,249.05 347.60,249.05 347.60,249.70 349.75,249.70 349.75,250.35 351.90,250.35 351.90,251.00 354.14,251.00 354.14,251.05 356.38,251.05 356.38,251.09 358.62,251.09 358.62,251.14 360.86,251.14 360.86,251.19 363.11,251.19 363.11,251.24 365.35,251.24 365.35,251.28 367.59,251.28 367.59,251.33 369.83,251.33 369.83,251.38 372.07,251.38 372.07,251.42 374.31,251.42 374.31,251.47 376.55,251.47 376.55,251.52 378.79,251.52 378.79,251.56 381.04,251.56 381.04,251.61 383.28,251.61 383.28,251.66 385.52,251.66 385.52,251.71 387.76,251.71 387.76,251.75 390.00,251.75 390.00,251.80 394.30,252.00 430.00,252.50 430.00,254.00 467.30,254.00 467.30,254.70 504.60,254.70 504.60,283.70 428.60,283.70 428.60,279.90 346.70,279.50 346.70,278.82 344.62,278.82 344.62,278.14 342.54,278.14 342.54,277.46 340.46,277.46 340.46,276.78 338.38,276.78 338.38,276.10 336.30,276.10 336.30,275.20 334.60,275.20 334.60,274.30 332.90,274.30 332.90,271.93 331.18,271.93 331.18,269.55 329.45,269.55 329.45,267.18 327.73,267.18 327.73,264.80 326.00,264.80 326.00,262.72 324.96,262.72 324.96,260.64 323.92,260.64 323.92,258.56 322.88,258.56 322.88,256.48 321.84,256.48 321.84,254.40 320.80,254.40 320.80,252.10 320.22,252.10 320.22,249.80 319.63,249.80 319.63,247.50 319.05,247.50 319.05,245.20 318.47,245.20 318.47,242.90 317.88,242.90 317.88,240.60 317.30,240.60 317.30,238.58 316.58,238.58 316.58,236.57 315.87,236.57 315.87,234.55 315.15,234.55 315.15,232.53 314.43,232.53 314.43,230.52 313.72,230.52 313.72,228.50 313.00,228.50 313.00,227.65 310.40,227.65 310.40,226.80 307.80,226.80 307.80,224.78 307.65,224.78 307.65,222.77 307.50,222.77 307.50,220.75 307.35,220.75 307.35,218.73 307.20,218.73 307.20,216.72 307.05,216.72 307.05,214.70 306.90,214.70" fill="#efc3b7"/>
<g clip-path="url(#c4)"><polygon points="306.90,214.70 309.45,214.70 309.45,215.85 312.00,215.85 312.00,217.00 314.10,217.00 314.10,218.75 316.20,218.75 316.20,220.50 317.13,220.50 317.13,222.60 318.07,222.60 318.07,224.70 319.00,224.70 319.00,226.80 320.40,226.80 320.40,228.86 321.80,228.86 321.80,230.92 323.20,230.92 323.20,232.98 324.60,232.98 324.60,235.04 326.00,235.04 326.00,237.10 328.15,237.10 328.15,239.05 330.30,239.05 330.30,241.00 332.45,241.00 332.45,242.95 334.60,242.95 334.60,244.90 336.77,244.90 336.77,245.78 338.95,245.78 338.95,246.65 341.12,246.65 341.12,247.53 343.30,247.53 343.30,248.40 345.45,248.40 345.45,249.05 347.60,249.05 347.60,249.70 349.75,249.70 349.75,250.35 351.90,250.35 351.90,251.00 354.14,251.00 354.14,251.05 356.38,251.05 356.38,251.09 358.62,251.09 358.62,251.14 360.86,251.14 360.86,251.19 363.11,251.19 363.11,251.24 365.35,251.24 365.35,251.28 367.59,251.28 367.59,251.33 369.83,251.33 369.83,251.38 372.07,251.38 372.07,251.42 374.31,251.42 374.31,251.47 376.55,251.47 376.55,251.52 378.79,251.52 378.79,251.56 381.04,251.56 381.04,251.61 383.28,251.61 383.28,251.66 385.52,251.66 385.52,251.71 387.76,251.71 387.76,251.75 390.00,251.75 390.00,251.80 394.30,252.00 430.00,252.50 430.00,254.00 467.30,254.00 467.30,254.70 504.60,254.70 504.60,283.70 428.60,283.70 428.60,279.90 346.70,279.50 346.70,278.82 344.62,278.82 344.62,278.14 342.54,278.14 342.54,277.46 340.46,277.46 340.46,276.78 338.38,276.78 338.38,276.10 336.30,276.10 336.30,275.20 334.60,275.20 334.60,274.30 332.90,274.30 332.90,271.93 331.18,271.93 331.18,269.55 329.45,269.55 329.45,267.18 327.73,267.18 327.73,264.80 326.00,264.80 326.00,262.72 324.96,262.72 324.96,260.64 323.92,260.64 323.92,258.56 322.88,258.56 322.88,256.48 321.84,256.48 321.84,254.40 320.80,254.40 320.80,252.10 320.22,252.10 320.22,249.80 319.63,249.80 319.63,247.50 319.05,247.50 319.05,245.20 318.47,245.20 318.47,242.90 317.88,242.90 317.88,240.60 317.30,240.60 317.30,238.58 316.58,238.58 316.58,236.57 315.87,236.57 315.87,234.55 315.15,234.55 315.15,232.53 314.43,232.53 314.43,230.52 313.72,230.52 313.72,228.50 313.00,228.50 313.00,227.65 310.40,227.65 310.40,226.80 307.80,226.80 307.80,224.78 307.65,224.78 307.65,222.77 307.50,222.77 307.50,220.75 307.35,220.75 307.35,218.73 307.20,218.73 307.20,216.72 307.05,216.72 307.05,214.70 306.90,214.70" fill="#c3a2a6"/></g>
<polyline points="306.90,214.70 308.63,214.70 308.63,215.83 310.37,215.83 310.37,216.97 312.10,216.97 312.10,218.10 313.53,218.10 313.53,219.27 314.97,219.27 314.97,220.43 316.40,220.43 316.40,221.60 317.70,221.60 317.70,223.30 319.00,223.30 319.00,225.00 320.30,225.00 320.30,226.75 321.60,226.75 321.60,228.50 322.90,228.50 322.90,230.25 324.20,230.25 324.20,232.00 325.37,232.00 325.37,233.43 326.53,233.43 326.53,234.87 327.70,234.87 327.70,236.30 329.43,236.30 329.43,237.73 331.17,237.73 331.17,239.17 332.90,239.17 332.90,240.60 334.63,240.60 334.63,241.17 336.37,241.17 336.37,241.73 338.10,241.73 338.10,242.30 339.83,242.30 339.83,242.60 341.57,242.60 341.57,242.90 343.30,242.90 343.30,243.20 345.00,243.20 345.00,243.77 346.70,243.77 346.70,244.33 348.40,244.33 348.40,244.90 350.15,244.90 350.15,245.70 351.90,245.70 351.90,246.50 362.30,247.00 363.30,247.00 363.30,247.70 394.30,247.90 394.30,250.00 406.20,250.00 406.20,250.90 430.00,250.90 430.00,251.80 464.30,251.80 464.30,253.00 467.30,253.00 467.30,253.80 504.60,253.80" fill="none" stroke="#1d5c8e" stroke-width="1.55" stroke-linejoin="miter"/>
<polyline points="306.90,214.70 308.63,214.70 308.63,215.53 310.37,215.53 310.37,216.37 312.10,216.37 312.10,217.20 313.27,217.20 313.27,218.67 314.43,218.67 314.43,220.13 315.60,220.13 315.60,221.60 315.94,221.60 315.94,223.32 316.28,223.32 316.28,225.04 316.62,225.04 316.62,226.76 316.96,226.76 316.96,228.48 317.30,228.48 317.30,230.20 317.64,230.20 317.64,231.94 317.98,231.94 317.98,233.68 318.32,233.68 318.32,235.42 318.66,235.42 318.66,237.16 319.00,237.16 319.00,238.90 319.52,238.90 319.52,240.46 320.04,240.46 320.04,242.02 320.56,242.02 320.56,243.58 321.08,243.58 321.08,245.14 321.60,245.14 321.60,246.70 323.07,246.70 323.07,248.13 324.53,248.13 324.53,249.57 326.00,249.57 326.00,251.00 327.43,251.00 327.43,251.57 328.87,251.57 328.87,252.13 330.30,252.13 330.30,252.70 330.95,252.70 330.95,254.22 331.60,254.22 331.60,255.75 332.25,255.75 332.25,257.27 332.90,257.27 332.90,258.80 334.60,258.80 334.60,260.50 336.32,260.50 336.32,260.73 338.05,260.73 338.05,260.95 339.77,260.95 339.77,261.18 341.50,261.18 341.50,261.40 343.23,261.40 343.23,262.27 344.97,262.27 344.97,263.13 346.70,263.13 346.70,264.00 347.50,264.00 347.50,264.70 428.60,264.70 428.60,267.30 504.60,267.30" fill="none" stroke="#d0273f" stroke-width="1.55" stroke-linejoin="miter"/>
<line x1="301.30" y1="209.50" x2="301.30" y2="337.80" stroke="#2a2a2a" stroke-width="1.0"/>
<line x1="300.80" y1="337.30" x2="509.80" y2="337.30" stroke="#2a2a2a" stroke-width="1.3"/>
<path d="M298.00 331.85H301.30M299.30 329.51H301.30M299.30 327.17H301.30M299.30 324.84H301.30M299.30 322.50H301.30M298.00 320.16H301.30M299.30 317.82H301.30M299.30 315.48H301.30M299.30 313.15H301.30M299.30 310.81H301.30M298.00 308.47H301.30M299.30 306.13H301.30M299.30 303.79H301.30M299.30 301.46H301.30M299.30 299.12H301.30M298.00 296.78H301.30M299.30 294.44H301.30M299.30 292.10H301.30M299.30 289.77H301.30M299.30 287.43H301.30M298.00 285.09H301.30M299.30 282.75H301.30M299.30 280.41H301.30M299.30 278.08H301.30M299.30 275.74H301.30M298.00 273.40H301.30M299.30 271.06H301.30M299.30 268.72H301.30M299.30 266.39H301.30M299.30 264.05H301.30M298.00 261.71H301.30M299.30 259.37H301.30M299.30 257.03H301.30M299.30 254.70H301.30M299.30 252.36H301.30M298.00 250.02H301.30M299.30 247.68H301.30M299.30 245.34H301.30M299.30 243.01H301.30M299.30 240.67H301.30M298.00 238.33H301.30M299.30 235.99H301.30M299.30 233.65H301.30M299.30 231.32H301.30M299.30 228.98H301.30M298.00 226.64H301.30M299.30 224.30H301.30M299.30 221.96H301.30M299.30 219.63H301.30M299.30 217.29H301.30M298.00 214.95H301.30M306.60 337.30V340.90M316.20 337.30V339.50M325.80 337.30V339.50M335.40 337.30V339.50M345.00 337.30V340.90M354.60 337.30V339.50M364.20 337.30V339.50M373.80 337.30V339.50M383.40 337.30V340.90M393.00 337.30V339.50M402.60 337.30V339.50M412.20 337.30V339.50M421.80 337.30V340.90M431.40 337.30V339.50M441.00 337.30V339.50M450.60 337.30V339.50M460.20 337.30V340.90M469.80 337.30V339.50M479.40 337.30V339.50M489.00 337.30V339.50M498.60 337.30V340.90M504.40 337.30V340.70" stroke="#2a2a2a" stroke-width="1" fill="none"/>
<text x="295.30" y="335.15" font-size="8.8" text-anchor="end" >0.0</text>
<text x="295.30" y="323.46" font-size="8.8" text-anchor="end" >0.1</text>
<text x="295.30" y="311.77" font-size="8.8" text-anchor="end" >0.2</text>
<text x="295.30" y="300.08" font-size="8.8" text-anchor="end" >0.3</text>
<text x="295.30" y="288.39" font-size="8.8" text-anchor="end" >0.4</text>
<text x="295.30" y="276.70" font-size="8.8" text-anchor="end" >0.5</text>
<text x="295.30" y="265.01" font-size="8.8" text-anchor="end" >0.6</text>
<text x="295.30" y="253.32" font-size="8.8" text-anchor="end" >0.7</text>
<text x="295.30" y="241.63" font-size="8.8" text-anchor="end" >0.8</text>
<text x="295.30" y="229.94" font-size="8.8" text-anchor="end" >0.9</text>
<text x="295.30" y="218.25" font-size="8.8" text-anchor="end" >1.0</text>
<text x="306.70" y="350.00" font-size="9.0" text-anchor="middle" >0</text>
<text x="345.10" y="350.00" font-size="9.0" text-anchor="middle" >12</text>
<text x="383.50" y="350.00" font-size="9.0" text-anchor="middle" >24</text>
<text x="421.90" y="350.00" font-size="9.0" text-anchor="middle" >36</text>
<text x="460.30" y="350.00" font-size="9.0" text-anchor="middle" >48</text>
<text x="498.70" y="350.00" font-size="9.0" text-anchor="middle" >60</text>
<clipPath id="c5"><polygon points="50.40,413.30 52.42,413.30 52.42,413.73 54.45,413.73 54.45,414.15 56.48,414.15 56.48,414.57 58.50,414.57 58.50,415.00 60.50,415.00 60.50,417.40 62.50,417.40 62.50,419.80 73.90,419.80 74.60,419.80 74.60,422.40 75.30,422.40 75.30,425.00 94.80,425.40 133.80,425.40 133.80,426.90 213.20,426.90 213.20,430.00 249.00,430.00 249.00,454.60 213.20,454.60 213.20,446.90 133.80,446.90 133.80,444.50 94.80,444.50 94.80,444.30 92.63,444.30 92.63,444.10 90.47,444.10 90.47,443.90 88.30,443.90 88.30,443.70 86.13,443.70 86.13,443.50 83.97,443.50 83.97,443.30 81.80,443.30 81.80,443.10 79.63,443.10 79.63,442.90 77.47,442.90 77.47,442.70 75.30,442.70 75.30,441.33 73.27,441.33 73.27,439.97 71.23,439.97 71.23,438.60 69.20,438.60 69.20,437.50 66.97,437.50 66.97,436.40 64.73,436.40 64.73,435.30 62.50,435.30 62.50,432.65 61.25,432.65 61.25,430.00 60.00,430.00 60.00,428.00 58.75,428.00 58.75,426.00 57.50,426.00 57.50,424.00 56.25,424.00 56.25,422.00 55.00,422.00 55.00,419.82 53.85,419.82 53.85,417.65 52.70,417.65 52.70,415.48 51.55,415.48 51.55,413.30 50.40,413.30"/></clipPath>
<clipPath id="c6"><polygon points="50.40,413.30 52.56,413.30 52.56,413.74 54.72,413.74 54.72,414.18 56.88,414.18 56.88,414.62 59.04,414.62 59.04,415.06 61.20,415.06 61.20,415.50 62.00,415.50 62.00,417.80 94.80,417.80 95.50,417.80 95.50,420.80 249.00,420.80 249.00,454.00 94.60,454.00 94.60,448.80 69.20,448.80 69.20,446.60 67.53,446.60 67.53,444.40 65.85,444.40 65.85,442.20 64.17,442.20 64.17,440.00 62.50,440.00 62.50,439.00 60.27,439.00 60.27,438.00 58.03,438.00 58.03,437.00 55.80,437.00 55.80,434.85 55.31,434.85 55.31,432.69 54.82,432.69 54.82,430.54 54.33,430.54 54.33,428.38 53.84,428.38 53.84,426.23 53.35,426.23 53.35,424.07 52.85,424.07 52.85,421.92 52.36,421.92 52.36,419.76 51.87,419.76 51.87,417.61 51.38,417.61 51.38,415.45 50.89,415.45 50.89,413.30 50.40,413.30"/></clipPath>
<polygon points="50.40,413.30 52.56,413.30 52.56,413.74 54.72,413.74 54.72,414.18 56.88,414.18 56.88,414.62 59.04,414.62 59.04,415.06 61.20,415.06 61.20,415.50 62.00,415.50 62.00,417.80 94.80,417.80 95.50,417.80 95.50,420.80 249.00,420.80 249.00,454.00 94.60,454.00 94.60,448.80 69.20,448.80 69.20,446.60 67.53,446.60 67.53,444.40 65.85,444.40 65.85,442.20 64.17,442.20 64.17,440.00 62.50,440.00 62.50,439.00 60.27,439.00 60.27,438.00 58.03,438.00 58.03,437.00 55.80,437.00 55.80,434.85 55.31,434.85 55.31,432.69 54.82,432.69 54.82,430.54 54.33,430.54 54.33,428.38 53.84,428.38 53.84,426.23 53.35,426.23 53.35,424.07 52.85,424.07 52.85,421.92 52.36,421.92 52.36,419.76 51.87,419.76 51.87,417.61 51.38,417.61 51.38,415.45 50.89,415.45 50.89,413.30 50.40,413.30" fill="#d2e8ca"/>
<polygon points="50.40,413.30 52.42,413.30 52.42,413.73 54.45,413.73 54.45,414.15 56.48,414.15 56.48,414.57 58.50,414.57 58.50,415.00 60.50,415.00 60.50,417.40 62.50,417.40 62.50,419.80 73.90,419.80 74.60,419.80 74.60,422.40 75.30,422.40 75.30,425.00 94.80,425.40 133.80,425.40 133.80,426.90 213.20,426.90 213.20,430.00 249.00,430.00 249.00,454.60 213.20,454.60 213.20,446.90 133.80,446.90 133.80,444.50 94.80,444.50 94.80,444.30 92.63,444.30 92.63,444.10 90.47,444.10 90.47,443.90 88.30,443.90 88.30,443.70 86.13,443.70 86.13,443.50 83.97,443.50 83.97,443.30 81.80,443.30 81.80,443.10 79.63,443.10 79.63,442.90 77.47,442.90 77.47,442.70 75.30,442.70 75.30,441.33 73.27,441.33 73.27,439.97 71.23,439.97 71.23,438.60 69.20,438.60 69.20,437.50 66.97,437.50 66.97,436.40 64.73,436.40 64.73,435.30 62.50,435.30 62.50,432.65 61.25,432.65 61.25,430.00 60.00,430.00 60.00,428.00 58.75,428.00 58.75,426.00 57.50,426.00 57.50,424.00 56.25,424.00 56.25,422.00 55.00,422.00 55.00,419.82 53.85,419.82 53.85,417.65 52.70,417.65 52.70,415.48 51.55,415.48 51.55,413.30 50.40,413.30" fill="#bec5dc"/>
<polygon points="50.40,413.30 52.28,413.30 52.28,415.68 54.16,415.68 54.16,418.06 56.04,418.06 56.04,420.44 57.92,420.44 57.92,422.82 59.80,422.82 59.80,425.20 60.70,425.20 60.70,427.47 61.60,427.47 61.60,429.73 62.50,429.73 62.50,432.00 63.33,432.00 63.33,434.33 64.17,434.33 64.17,436.67 65.00,436.67 65.00,439.00 65.84,439.00 65.84,441.08 66.68,441.08 66.68,443.16 67.52,443.16 67.52,445.24 68.36,445.24 68.36,447.32 69.20,447.32 69.20,449.40 71.90,449.40 71.90,450.80 74.13,450.80 74.13,452.93 76.37,452.93 76.37,455.07 78.60,455.07 78.60,457.20 94.80,457.80 97.25,457.80 97.25,458.15 99.70,458.15 99.70,458.50 102.15,458.50 102.15,458.85 104.60,458.85 104.60,459.20 106.52,459.20 106.52,459.60 108.45,459.60 108.45,460.00 110.38,460.00 110.38,460.40 112.30,460.40 112.30,460.80 173.80,460.80 173.80,462.30 249.00,462.30 249.00,480.80 173.80,480.80 173.80,477.70 112.30,477.70 112.30,477.32 110.38,477.32 110.38,476.95 108.45,476.95 108.45,476.57 106.52,476.57 106.52,476.20 104.60,476.20 104.60,476.09 102.36,476.09 102.36,475.98 100.13,475.98 100.13,475.87 97.89,475.87 97.89,475.76 95.65,475.76 95.65,475.65 93.42,475.65 93.42,475.55 91.18,475.55 91.18,475.44 88.95,475.44 88.95,475.33 86.71,475.33 86.71,475.22 84.47,475.22 84.47,475.11 82.24,475.11 82.24,475.00 80.00,475.00 80.00,473.65 78.00,473.65 78.00,472.30 76.00,472.30 76.00,470.07 73.73,470.07 73.73,467.83 71.47,467.83 71.47,465.60 69.20,465.60 69.20,463.49 68.43,463.49 68.43,461.37 67.66,461.37 67.66,459.26 66.89,459.26 66.89,457.14 66.11,457.14 66.11,455.03 65.34,455.03 65.34,452.91 64.57,452.91 64.57,450.80 63.80,450.80 63.80,448.69 63.04,448.69 63.04,446.57 62.29,446.57 62.29,444.46 61.53,444.46 61.53,442.34 60.77,442.34 60.77,440.23 60.01,440.23 60.01,438.11 59.26,438.11 59.26,436.00 58.50,436.00 58.50,433.76 57.74,433.76 57.74,431.51 56.99,431.51 56.99,429.27 56.23,429.27 56.23,427.02 55.48,427.02 55.48,424.78 54.72,424.78 54.72,422.53 53.97,422.53 53.97,420.29 53.21,420.29 53.21,418.04 52.46,418.04 52.46,415.80 51.70,415.80 51.70,413.30 50.40,413.30" fill="#efc3b7"/>
<g clip-path="url(#c6)"><polygon points="50.40,413.30 52.42,413.30 52.42,413.73 54.45,413.73 54.45,414.15 56.48,414.15 56.48,414.57 58.50,414.57 58.50,415.00 60.50,415.00 60.50,417.40 62.50,417.40 62.50,419.80 73.90,419.80 74.60,419.80 74.60,422.40 75.30,422.40 75.30,425.00 94.80,425.40 133.80,425.40 133.80,426.90 213.20,426.90 213.20,430.00 249.00,430.00 249.00,454.60 213.20,454.60 213.20,446.90 133.80,446.90 133.80,444.50 94.80,444.50 94.80,444.30 92.63,444.30 92.63,444.10 90.47,444.10 90.47,443.90 88.30,443.90 88.30,443.70 86.13,443.70 86.13,443.50 83.97,443.50 83.97,443.30 81.80,443.30 81.80,443.10 79.63,443.10 79.63,442.90 77.47,442.90 77.47,442.70 75.30,442.70 75.30,441.33 73.27,441.33 73.27,439.97 71.23,439.97 71.23,438.60 69.20,438.60 69.20,437.50 66.97,437.50 66.97,436.40 64.73,436.40 64.73,435.30 62.50,435.30 62.50,432.65 61.25,432.65 61.25,430.00 60.00,430.00 60.00,428.00 58.75,428.00 58.75,426.00 57.50,426.00 57.50,424.00 56.25,424.00 56.25,422.00 55.00,422.00 55.00,419.82 53.85,419.82 53.85,417.65 52.70,417.65 52.70,415.48 51.55,415.48 51.55,413.30 50.40,413.30" fill="#9fb5b9"/></g>
<g clip-path="url(#c6)"><polygon points="50.40,413.30 52.28,413.30 52.28,415.68 54.16,415.68 54.16,418.06 56.04,418.06 56.04,420.44 57.92,420.44 57.92,422.82 59.80,422.82 59.80,425.20 60.70,425.20 60.70,427.47 61.60,427.47 61.60,429.73 62.50,429.73 62.50,432.00 63.33,432.00 63.33,434.33 64.17,434.33 64.17,436.67 65.00,436.67 65.00,439.00 65.84,439.00 65.84,441.08 66.68,441.08 66.68,443.16 67.52,443.16 67.52,445.24 68.36,445.24 68.36,447.32 69.20,447.32 69.20,449.40 71.90,449.40 71.90,450.80 74.13,450.80 74.13,452.93 76.37,452.93 76.37,455.07 78.60,455.07 78.60,457.20 94.80,457.80 97.25,457.80 97.25,458.15 99.70,458.15 99.70,458.50 102.15,458.50 102.15,458.85 104.60,458.85 104.60,459.20 106.52,459.20 106.52,459.60 108.45,459.60 108.45,460.00 110.38,460.00 110.38,460.40 112.30,460.40 112.30,460.80 173.80,460.80 173.80,462.30 249.00,462.30 249.00,480.80 173.80,480.80 173.80,477.70 112.30,477.70 112.30,477.32 110.38,477.32 110.38,476.95 108.45,476.95 108.45,476.57 106.52,476.57 106.52,476.20 104.60,476.20 104.60,476.09 102.36,476.09 102.36,475.98 100.13,475.98 100.13,475.87 97.89,475.87 97.89,475.76 95.65,475.76 95.65,475.65 93.42,475.65 93.42,475.55 91.18,475.55 91.18,475.44 88.95,475.44 88.95,475.33 86.71,475.33 86.71,475.22 84.47,475.22 84.47,475.11 82.24,475.11 82.24,475.00 80.00,475.00 80.00,473.65 78.00,473.65 78.00,472.30 76.00,472.30 76.00,470.07 73.73,470.07 73.73,467.83 71.47,467.83 71.47,465.60 69.20,465.60 69.20,463.49 68.43,463.49 68.43,461.37 67.66,461.37 67.66,459.26 66.89,459.26 66.89,457.14 66.11,457.14 66.11,455.03 65.34,455.03 65.34,452.91 64.57,452.91 64.57,450.80 63.80,450.80 63.80,448.69 63.04,448.69 63.04,446.57 62.29,446.57 62.29,444.46 61.53,444.46 61.53,442.34 60.77,442.34 60.77,440.23 60.01,440.23 60.01,438.11 59.26,438.11 59.26,436.00 58.50,436.00 58.50,433.76 57.74,433.76 57.74,431.51 56.99,431.51 56.99,429.27 56.23,429.27 56.23,427.02 55.48,427.02 55.48,424.78 54.72,424.78 54.72,422.53 53.97,422.53 53.97,420.29 53.21,420.29 53.21,418.04 52.46,418.04 52.46,415.80 51.70,415.80 51.70,413.30 50.40,413.30" fill="#d8c4a8"/></g>
<g clip-path="url(#c5)"><polygon points="50.40,413.30 52.28,413.30 52.28,415.68 54.16,415.68 54.16,418.06 56.04,418.06 56.04,420.44 57.92,420.44 57.92,422.82 59.80,422.82 59.80,425.20 60.70,425.20 60.70,427.47 61.60,427.47 61.60,429.73 62.50,429.73 62.50,432.00 63.33,432.00 63.33,434.33 64.17,434.33 64.17,436.67 65.00,436.67 65.00,439.00 65.84,439.00 65.84,441.08 66.68,441.08 66.68,443.16 67.52,443.16 67.52,445.24 68.36,445.24 68.36,447.32 69.20,447.32 69.20,449.40 71.90,449.40 71.90,450.80 74.13,450.80 74.13,452.93 76.37,452.93 76.37,455.07 78.60,455.07 78.60,457.20 94.80,457.80 97.25,457.80 97.25,458.15 99.70,458.15 99.70,458.50 102.15,458.50 102.15,458.85 104.60,458.85 104.60,459.20 106.52,459.20 106.52,459.60 108.45,459.60 108.45,460.00 110.38,460.00 110.38,460.40 112.30,460.40 112.30,460.80 173.80,460.80 173.80,462.30 249.00,462.30 249.00,480.80 173.80,480.80 173.80,477.70 112.30,477.70 112.30,477.32 110.38,477.32 110.38,476.95 108.45,476.95 108.45,476.57 106.52,476.57 106.52,476.20 104.60,476.20 104.60,476.09 102.36,476.09 102.36,475.98 100.13,475.98 100.13,475.87 97.89,475.87 97.89,475.76 95.65,475.76 95.65,475.65 93.42,475.65 93.42,475.55 91.18,475.55 91.18,475.44 88.95,475.44 88.95,475.33 86.71,475.33 86.71,475.22 84.47,475.22 84.47,475.11 82.24,475.11 82.24,475.00 80.00,475.00 80.00,473.65 78.00,473.65 78.00,472.30 76.00,472.30 76.00,470.07 73.73,470.07 73.73,467.83 71.47,467.83 71.47,465.60 69.20,465.60 69.20,463.49 68.43,463.49 68.43,461.37 67.66,461.37 67.66,459.26 66.89,459.26 66.89,457.14 66.11,457.14 66.11,455.03 65.34,455.03 65.34,452.91 64.57,452.91 64.57,450.80 63.80,450.80 63.80,448.69 63.04,448.69 63.04,446.57 62.29,446.57 62.29,444.46 61.53,444.46 61.53,442.34 60.77,442.34 60.77,440.23 60.01,440.23 60.01,438.11 59.26,438.11 59.26,436.00 58.50,436.00 58.50,433.76 57.74,433.76 57.74,431.51 56.99,431.51 56.99,429.27 56.23,429.27 56.23,427.02 55.48,427.02 55.48,424.78 54.72,424.78 54.72,422.53 53.97,422.53 53.97,420.29 53.21,420.29 53.21,418.04 52.46,418.04 52.46,415.80 51.70,415.80 51.70,413.30 50.40,413.30" fill="#c3a2a6"/></g>
<g clip-path="url(#c5)"><g clip-path="url(#c6)"><polygon points="50.40,413.30 52.28,413.30 52.28,415.68 54.16,415.68 54.16,418.06 56.04,418.06 56.04,420.44 57.92,420.44 57.92,422.82 59.80,422.82 59.80,425.20 60.70,425.20 60.70,427.47 61.60,427.47 61.60,429.73 62.50,429.73 62.50,432.00 63.33,432.00 63.33,434.33 64.17,434.33 64.17,436.67 65.00,436.67 65.00,439.00 65.84,439.00 65.84,441.08 66.68,441.08 66.68,443.16 67.52,443.16 67.52,445.24 68.36,445.24 68.36,447.32 69.20,447.32 69.20,449.40 71.90,449.40 71.90,450.80 74.13,450.80 74.13,452.93 76.37,452.93 76.37,455.07 78.60,455.07 78.60,457.20 94.80,457.80 97.25,457.80 97.25,458.15 99.70,458.15 99.70,458.50 102.15,458.50 102.15,458.85 104.60,458.85 104.60,459.20 106.52,459.20 106.52,459.60 108.45,459.60 108.45,460.00 110.38,460.00 110.38,460.40 112.30,460.40 112.30,460.80 173.80,460.80 173.80,462.30 249.00,462.30 249.00,480.80 173.80,480.80 173.80,477.70 112.30,477.70 112.30,477.32 110.38,477.32 110.38,476.95 108.45,476.95 108.45,476.57 106.52,476.57 106.52,476.20 104.60,476.20 104.60,476.09 102.36,476.09 102.36,475.98 100.13,475.98 100.13,475.87 97.89,475.87 97.89,475.76 95.65,475.76 95.65,475.65 93.42,475.65 93.42,475.55 91.18,475.55 91.18,475.44 88.95,475.44 88.95,475.33 86.71,475.33 86.71,475.22 84.47,475.22 84.47,475.11 82.24,475.11 82.24,475.00 80.00,475.00 80.00,473.65 78.00,473.65 78.00,472.30 76.00,472.30 76.00,470.07 73.73,470.07 73.73,467.83 71.47,467.83 71.47,465.60 69.20,465.60 69.20,463.49 68.43,463.49 68.43,461.37 67.66,461.37 67.66,459.26 66.89,459.26 66.89,457.14 66.11,457.14 66.11,455.03 65.34,455.03 65.34,452.91 64.57,452.91 64.57,450.80 63.80,450.80 63.80,448.69 63.04,448.69 63.04,446.57 62.29,446.57 62.29,444.46 61.53,444.46 61.53,442.34 60.77,442.34 60.77,440.23 60.01,440.23 60.01,438.11 59.26,438.11 59.26,436.00 58.50,436.00 58.50,433.76 57.74,433.76 57.74,431.51 56.99,431.51 56.99,429.27 56.23,429.27 56.23,427.02 55.48,427.02 55.48,424.78 54.72,424.78 54.72,422.53 53.97,422.53 53.97,420.29 53.21,420.29 53.21,418.04 52.46,418.04 52.46,415.80 51.70,415.80 51.70,413.30 50.40,413.30" fill="#a89c98"/></g></g>
<polyline points="50.40,413.30 54.40,413.30 55.80,413.30 55.80,415.10 57.80,415.10 57.80,415.45 59.80,415.45 59.80,415.80 60.50,415.80 60.50,417.15 61.20,417.15 61.20,418.50 61.80,425.90 94.80,425.90 95.03,425.90 95.03,427.57 95.27,427.57 95.27,429.23 95.50,429.23 95.50,430.90 249.00,430.90" fill="none" stroke="#3fae5a" stroke-width="1.55" stroke-linejoin="miter"/>
<polyline points="50.40,413.30 53.10,413.30 54.10,413.30 54.10,414.85 55.10,414.85 55.10,416.40 56.80,416.40 56.80,416.75 58.50,416.75 58.50,417.10 59.50,417.10 59.50,418.45 60.50,418.45 60.50,419.80 61.17,419.80 61.17,421.60 61.83,421.60 61.83,423.40 62.50,423.40 62.50,425.20 69.20,425.20 70.55,425.20 70.55,426.55 71.90,426.55 71.90,427.90 73.90,427.90 73.90,428.60 74.60,428.60 74.60,429.90 75.30,429.90 75.30,431.20 93.50,431.20 94.10,433.10 133.80,433.10 133.80,434.60 209.20,434.60 209.20,437.00 213.20,437.00 213.20,440.20 249.00,440.20" fill="none" stroke="#1d5c8e" stroke-width="1.55" stroke-linejoin="miter"/>
<polyline points="50.40,413.30 51.30,413.30 51.30,414.80 52.20,414.80 52.20,416.30 53.10,416.30 53.10,417.80 53.77,417.80 53.77,419.30 54.45,419.30 54.45,420.80 55.12,420.80 55.12,422.30 55.80,422.30 55.80,423.80 56.46,423.80 56.46,425.42 57.12,425.42 57.12,427.04 57.78,427.04 57.78,428.66 58.44,428.66 58.44,430.28 59.10,430.28 59.10,431.90 59.64,431.90 59.64,433.52 60.18,433.52 60.18,435.14 60.72,435.14 60.72,436.76 61.26,436.76 61.26,438.38 61.80,438.38 61.80,440.00 62.48,440.00 62.48,441.62 63.16,441.62 63.16,443.24 63.84,443.24 63.84,444.86 64.52,444.86 64.52,446.48 65.20,446.48 65.20,448.10 65.87,448.10 65.87,449.67 66.53,449.67 66.53,451.23 67.20,451.23 67.20,452.80 67.87,452.80 67.87,454.37 68.53,454.37 68.53,455.93 69.20,455.93 69.20,457.50 70.57,457.50 70.57,458.40 71.93,458.40 71.93,459.30 73.30,459.30 73.30,460.20 75.07,460.20 75.07,462.00 76.83,462.00 76.83,463.80 78.60,463.80 78.60,465.60 80.00,465.60 80.00,466.90 104.60,466.90 106.14,466.90 106.14,467.22 107.68,467.22 107.68,467.54 109.22,467.54 109.22,467.86 110.76,467.86 110.76,468.18 112.30,468.18 112.30,468.50 173.80,468.50 173.80,471.50 249.00,471.50" fill="none" stroke="#d0273f" stroke-width="1.55" stroke-linejoin="miter"/>
<line x1="44.70" y1="408.00" x2="44.70" y2="527.50" stroke="#2a2a2a" stroke-width="1.0"/>
<line x1="44.20" y1="527.00" x2="255.40" y2="527.00" stroke="#2a2a2a" stroke-width="1.3"/>
<path d="M41.40 521.40H44.70M42.70 519.24H44.70M42.70 517.08H44.70M42.70 514.92H44.70M42.70 512.76H44.70M41.40 510.60H44.70M42.70 508.44H44.70M42.70 506.28H44.70M42.70 504.12H44.70M42.70 501.96H44.70M41.40 499.80H44.70M42.70 497.64H44.70M42.70 495.48H44.70M42.70 493.32H44.70M42.70 491.16H44.70M41.40 489.00H44.70M42.70 486.84H44.70M42.70 484.68H44.70M42.70 482.52H44.70M42.70 480.36H44.70M41.40 478.20H44.70M42.70 476.04H44.70M42.70 473.88H44.70M42.70 471.72H44.70M42.70 469.56H44.70M41.40 467.40H44.70M42.70 465.24H44.70M42.70 463.08H44.70M42.70 460.92H44.70M42.70 458.76H44.70M41.40 456.60H44.70M42.70 454.44H44.70M42.70 452.28H44.70M42.70 450.12H44.70M42.70 447.96H44.70M41.40 445.80H44.70M42.70 443.64H44.70M42.70 441.48H44.70M42.70 439.32H44.70M42.70 437.16H44.70M41.40 435.00H44.70M42.70 432.84H44.70M42.70 430.68H44.70M42.70 428.52H44.70M42.70 426.36H44.70M41.40 424.20H44.70M42.70 422.04H44.70M42.70 419.88H44.70M42.70 417.72H44.70M42.70 415.56H44.70M41.40 413.40H44.70M50.10 527.00V530.60M59.80 527.00V529.20M69.50 527.00V529.20M79.20 527.00V529.20M88.90 527.00V530.60M98.59 527.00V529.20M108.29 527.00V529.20M117.99 527.00V529.20M127.69 527.00V530.60M137.39 527.00V529.20M147.09 527.00V529.20M156.79 527.00V529.20M166.49 527.00V530.60M176.19 527.00V529.20M185.89 527.00V529.20M195.59 527.00V529.20M205.28 527.00V530.60M214.98 527.00V529.20M224.68 527.00V529.20M234.38 527.00V529.20M244.08 527.00V530.60M249.90 527.00V530.40" stroke="#2a2a2a" stroke-width="1" fill="none"/>
<text x="38.40" y="524.70" font-size="8.8" text-anchor="end" >0.0</text>
<text x="38.40" y="513.90" font-size="8.8" text-anchor="end" >0.1</text>
<text x="38.40" y="503.10" font-size="8.8" text-anchor="end" >0.2</text>
<text x="38.40" y="492.30" font-size="8.8" text-anchor="end" >0.3</text>
<text x="38.40" y="481.50" font-size="8.8" text-anchor="end" >0.4</text>
<text x="38.40" y="470.70" font-size="8.8" text-anchor="end" >0.5</text>
<text x="38.40" y="459.90" font-size="8.8" text-anchor="end" >0.6</text>
<text x="38.40" y="449.10" font-size="8.8" text-anchor="end" >0.7</text>
<text x="38.40" y="438.30" font-size="8.8" text-anchor="end" >0.8</text>
<text x="38.40" y="427.50" font-size="8.8" text-anchor="end" >0.9</text>
<text x="38.40" y="416.70" font-size="8.8" text-anchor="end" >1.0</text>
<text x="50.20" y="539.50" font-size="9.0" text-anchor="middle" >0</text>
<text x="89.00" y="539.50" font-size="9.0" text-anchor="middle" >12</text>
<text x="127.79" y="539.50" font-size="9.0" text-anchor="middle" >24</text>
<text x="166.59" y="539.50" font-size="9.0" text-anchor="middle" >36</text>
<text x="205.38" y="539.50" font-size="9.0" text-anchor="middle" >48</text>
<text x="244.18" y="539.50" font-size="9.0" text-anchor="middle" >60</text>
<clipPath id="c7"><polygon points="305.40,413.30 310.80,413.50 313.03,413.50 313.03,414.03 315.27,414.03 315.27,414.57 317.50,414.57 317.50,415.10 319.78,415.10 319.78,415.38 322.06,415.38 322.06,415.66 324.34,415.66 324.34,415.94 326.62,415.94 326.62,416.22 328.90,416.22 328.90,416.50 330.30,416.50 330.30,418.50 332.58,418.50 332.58,418.92 334.87,418.92 334.87,419.33 337.15,419.33 337.15,419.75 339.43,419.75 339.43,420.17 341.72,420.17 341.72,420.58 344.00,420.58 344.00,421.00 345.90,421.00 345.90,421.75 347.80,421.75 347.80,422.50 350.01,422.50 350.01,422.54 352.23,422.54 352.23,422.59 354.44,422.59 354.44,422.63 356.66,422.63 356.66,422.67 358.87,422.67 358.87,422.71 361.09,422.71 361.09,422.76 363.30,422.76 363.30,422.80 365.51,422.80 365.51,422.84 367.73,422.84 367.73,422.89 369.94,422.89 369.94,422.93 372.16,422.93 372.16,422.97 374.37,422.97 374.37,423.01 376.59,423.01 376.59,423.06 378.80,423.06 378.80,423.10 381.01,423.10 381.01,423.14 383.23,423.14 383.23,423.19 385.44,423.19 385.44,423.23 387.66,423.23 387.66,423.27 389.87,423.27 389.87,423.31 392.09,423.31 392.09,423.36 394.30,423.36 394.30,423.40 394.30,424.90 468.80,424.90 468.80,429.40 504.60,429.40 504.60,454.10 468.80,454.10 468.80,446.40 394.30,446.40 394.30,441.30 347.10,440.70 347.10,439.52 345.07,439.52 345.07,438.35 343.05,438.35 343.05,437.18 341.02,437.18 341.02,436.00 339.00,436.00 339.00,435.18 336.58,435.18 336.58,434.36 334.16,434.36 334.16,433.54 331.74,433.54 331.74,432.72 329.32,432.72 329.32,431.90 326.90,431.90 326.90,430.02 324.76,430.02 324.76,428.14 322.62,428.14 322.62,426.26 320.48,426.26 320.48,424.38 318.34,424.38 318.34,422.50 316.20,422.50 316.20,420.47 314.40,420.47 314.40,418.43 312.60,418.43 312.60,416.40 310.80,416.40 310.80,414.85 308.10,414.85 308.10,413.30 305.40,413.30"/></clipPath>
<clipPath id="c8"><polygon points="305.40,413.30 307.55,413.30 307.55,413.37 309.70,413.37 309.70,413.44 311.85,413.44 311.85,413.51 314.00,413.51 314.00,413.58 316.15,413.58 316.15,413.65 318.30,413.65 318.30,413.72 320.45,413.72 320.45,413.79 322.60,413.79 322.60,413.86 324.75,413.86 324.75,413.93 326.90,413.93 326.90,414.00 328.95,414.00 328.95,414.90 331.00,414.90 331.00,415.80 504.60,415.80 504.60,445.40 331.00,445.40 331.00,444.67 328.77,444.67 328.77,443.93 326.53,443.93 326.53,443.20 324.30,443.20 324.30,442.47 322.07,442.47 322.07,441.73 319.83,441.73 319.83,441.00 317.60,441.00 317.60,423.00 317.60,421.00 317.40,421.00 317.40,419.00 317.20,419.00 317.20,417.00 317.00,417.00 317.00,415.00 316.80,415.00 316.80,414.66 314.52,414.66 314.52,414.32 312.24,414.32 312.24,413.98 309.96,413.98 309.96,413.64 307.68,413.64 307.68,413.30 305.40,413.30"/></clipPath>
<polygon points="305.40,413.30 307.55,413.30 307.55,413.37 309.70,413.37 309.70,413.44 311.85,413.44 311.85,413.51 314.00,413.51 314.00,413.58 316.15,413.58 316.15,413.65 318.30,413.65 318.30,413.72 320.45,413.72 320.45,413.79 322.60,413.79 322.60,413.86 324.75,413.86 324.75,413.93 326.90,413.93 326.90,414.00 328.95,414.00 328.95,414.90 331.00,414.90 331.00,415.80 504.60,415.80 504.60,445.40 331.00,445.40 331.00,444.67 328.77,444.67 328.77,443.93 326.53,443.93 326.53,443.20 324.30,443.20 324.30,442.47 322.07,442.47 322.07,441.73 319.83,441.73 319.83,441.00 317.60,441.00 317.60,423.00 317.60,421.00 317.40,421.00 317.40,419.00 317.20,419.00 317.20,417.00 317.00,417.00 317.00,415.00 316.80,415.00 316.80,414.66 314.52,414.66 314.52,414.32 312.24,414.32 312.24,413.98 309.96,413.98 309.96,413.64 307.68,413.64 307.68,413.30 305.40,413.30" fill="#d2e8ca"/>
<polygon points="305.40,413.30 310.80,413.50 313.03,413.50 313.03,414.03 315.27,414.03 315.27,414.57 317.50,414.57 317.50,415.10 319.78,415.10 319.78,415.38 322.06,415.38 322.06,415.66 324.34,415.66 324.34,415.94 326.62,415.94 326.62,416.22 328.90,416.22 328.90,416.50 330.30,416.50 330.30,418.50 332.58,418.50 332.58,418.92 334.87,418.92 334.87,419.33 337.15,419.33 337.15,419.75 339.43,419.75 339.43,420.17 341.72,420.17 341.72,420.58 344.00,420.58 344.00,421.00 345.90,421.00 345.90,421.75 347.80,421.75 347.80,422.50 350.01,422.50 350.01,422.54 352.23,422.54 352.23,422.59 354.44,422.59 354.44,422.63 356.66,422.63 356.66,422.67 358.87,422.67 358.87,422.71 361.09,422.71 361.09,422.76 363.30,422.76 363.30,422.80 365.51,422.80 365.51,422.84 367.73,422.84 367.73,422.89 369.94,422.89 369.94,422.93 372.16,422.93 372.16,422.97 374.37,422.97 374.37,423.01 376.59,423.01 376.59,423.06 378.80,423.06 378.80,423.10 381.01,423.10 381.01,423.14 383.23,423.14 383.23,423.19 385.44,423.19 385.44,423.23 387.66,423.23 387.66,423.27 389.87,423.27 389.87,423.31 392.09,423.31 392.09,423.36 394.30,423.36 394.30,423.40 394.30,424.90 468.80,424.90 468.80,429.40 504.60,429.40 504.60,454.10 468.80,454.10 468.80,446.40 394.30,446.40 394.30,441.30 347.10,440.70 347.10,439.52 345.07,439.52 345.07,438.35 343.05,438.35 343.05,437.18 341.02,437.18 341.02,436.00 339.00,436.00 339.00,435.18 336.58,435.18 336.58,434.36 334.16,434.36 334.16,433.54 331.74,433.54 331.74,432.72 329.32,432.72 329.32,431.90 326.90,431.90 326.90,430.02 324.76,430.02 324.76,428.14 322.62,428.14 322.62,426.26 320.48,426.26 320.48,424.38 318.34,424.38 318.34,422.50 316.20,422.50 316.20,420.47 314.40,420.47 314.40,418.43 312.60,418.43 312.60,416.40 310.80,416.40 310.80,414.85 308.10,414.85 308.10,413.30 305.40,413.30" fill="#bec5dc"/>
<polygon points="305.40,413.30 307.63,413.30 307.63,415.03 309.87,415.03 309.87,416.77 312.10,416.77 312.10,418.50 313.45,418.50 313.45,420.50 314.80,420.50 314.80,422.50 316.15,422.50 316.15,424.50 317.50,424.50 317.50,426.50 318.46,426.50 318.46,428.61 319.41,428.61 319.41,430.73 320.37,430.73 320.37,432.84 321.33,432.84 321.33,434.96 322.29,434.96 322.29,437.07 323.24,437.07 323.24,439.19 324.20,439.19 324.20,441.30 326.13,441.30 326.13,442.93 328.07,442.93 328.07,444.57 330.00,444.57 330.00,446.20 332.30,446.20 332.30,447.35 334.60,447.35 334.60,448.50 337.30,448.50 337.30,449.65 340.00,449.65 340.00,450.80 343.10,450.80 343.10,453.50 345.13,453.50 345.13,454.00 347.17,454.00 347.17,454.50 349.20,454.50 349.20,455.00 352.30,455.00 352.30,456.20 362.30,456.50 364.32,456.50 364.32,456.75 366.35,456.75 366.35,457.00 368.38,457.00 368.38,457.25 370.40,457.25 370.40,457.50 370.40,458.30 429.00,458.30 431.00,458.30 431.00,460.10 504.60,460.10 504.60,479.20 431.00,479.20 431.00,476.20 429.00,476.20 370.40,476.20 362.30,475.80 362.30,475.56 360.30,475.56 360.30,475.32 358.30,475.32 358.30,475.08 356.30,475.08 356.30,474.84 354.30,474.84 354.30,474.60 352.30,474.60 352.30,473.83 350.00,473.83 350.00,473.07 347.70,473.07 347.70,472.30 345.40,472.30 345.40,471.55 343.45,471.55 343.45,470.80 341.50,470.80 341.50,469.45 339.60,469.45 339.60,468.10 337.70,468.10 337.70,467.15 335.75,467.15 335.75,466.20 333.80,466.20 333.80,464.65 331.90,464.65 331.90,463.10 330.00,463.10 330.00,460.82 328.55,460.82 328.55,458.55 327.10,458.55 327.10,456.27 325.65,456.27 325.65,454.00 324.20,454.00 324.20,451.80 323.24,451.80 323.24,449.60 322.29,449.60 322.29,447.40 321.33,447.40 321.33,445.20 320.37,445.20 320.37,443.00 319.41,443.00 319.41,440.80 318.46,440.80 318.46,438.60 317.50,438.60 317.50,436.37 316.38,436.37 316.38,434.13 315.27,434.13 315.27,431.90 314.15,431.90 314.15,429.67 313.03,429.67 313.03,427.43 311.92,427.43 311.92,425.20 310.80,425.20 310.80,422.85 309.45,422.85 309.45,420.50 308.10,420.50 308.10,418.15 306.75,418.15 306.75,415.80 305.40,415.80 305.40,413.30" fill="#efc3b7"/>
<g clip-path="url(#c8)"><polygon points="305.40,413.30 310.80,413.50 313.03,413.50 313.03,414.03 315.27,414.03 315.27,414.57 317.50,414.57 317.50,415.10 319.78,415.10 319.78,415.38 322.06,415.38 322.06,415.66 324.34,415.66 324.34,415.94 326.62,415.94 326.62,416.22 328.90,416.22 328.90,416.50 330.30,416.50 330.30,418.50 332.58,418.50 332.58,418.92 334.87,418.92 334.87,419.33 337.15,419.33 337.15,419.75 339.43,419.75 339.43,420.17 341.72,420.17 341.72,420.58 344.00,420.58 344.00,421.00 345.90,421.00 345.90,421.75 347.80,421.75 347.80,422.50 350.01,422.50 350.01,422.54 352.23,422.54 352.23,422.59 354.44,422.59 354.44,422.63 356.66,422.63 356.66,422.67 358.87,422.67 358.87,422.71 361.09,422.71 361.09,422.76 363.30,422.76 363.30,422.80 365.51,422.80 365.51,422.84 367.73,422.84 367.73,422.89 369.94,422.89 369.94,422.93 372.16,422.93 372.16,422.97 374.37,422.97 374.37,423.01 376.59,423.01 376.59,423.06 378.80,423.06 378.80,423.10 381.01,423.10 381.01,423.14 383.23,423.14 383.23,423.19 385.44,423.19 385.44,423.23 387.66,423.23 387.66,423.27 389.87,423.27 389.87,423.31 392.09,423.31 392.09,423.36 394.30,423.36 394.30,423.40 394.30,424.90 468.80,424.90 468.80,429.40 504.60,429.40 504.60,454.10 468.80,454.10 468.80,446.40 394.30,446.40 394.30,441.30 347.10,440.70 347.10,439.52 345.07,439.52 345.07,438.35 343.05,438.35 343.05,437.18 341.02,437.18 341.02,436.00 339.00,436.00 339.00,435.18 336.58,435.18 336.58,434.36 334.16,434.36 334.16,433.54 331.74,433.54 331.74,432.72 329.32,432.72 329.32,431.90 326.90,431.90 326.90,430.02 324.76,430.02 324.76,428.14 322.62,428.14 322.62,426.26 320.48,426.26 320.48,424.38 318.34,424.38 318.34,422.50 316.20,422.50 316.20,420.47 314.40,420.47 314.40,418.43 312.60,418.43 312.60,416.40 310.80,416.40 310.80,414.85 308.10,414.85 308.10,413.30 305.40,413.30" fill="#9fb5b9"/></g>
<g clip-path="url(#c8)"><polygon points="305.40,413.30 307.63,413.30 307.63,415.03 309.87,415.03 309.87,416.77 312.10,416.77 312.10,418.50 313.45,418.50 313.45,420.50 314.80,420.50 314.80,422.50 316.15,422.50 316.15,424.50 317.50,424.50 317.50,426.50 318.46,426.50 318.46,428.61 319.41,428.61 319.41,430.73 320.37,430.73 320.37,432.84 321.33,432.84 321.33,434.96 322.29,434.96 322.29,437.07 323.24,437.07 323.24,439.19 324.20,439.19 324.20,441.30 326.13,441.30 326.13,442.93 328.07,442.93 328.07,444.57 330.00,444.57 330.00,446.20 332.30,446.20 332.30,447.35 334.60,447.35 334.60,448.50 337.30,448.50 337.30,449.65 340.00,449.65 340.00,450.80 343.10,450.80 343.10,453.50 345.13,453.50 345.13,454.00 347.17,454.00 347.17,454.50 349.20,454.50 349.20,455.00 352.30,455.00 352.30,456.20 362.30,456.50 364.32,456.50 364.32,456.75 366.35,456.75 366.35,457.00 368.38,457.00 368.38,457.25 370.40,457.25 370.40,457.50 370.40,458.30 429.00,458.30 431.00,458.30 431.00,460.10 504.60,460.10 504.60,479.20 431.00,479.20 431.00,476.20 429.00,476.20 370.40,476.20 362.30,475.80 362.30,475.56 360.30,475.56 360.30,475.32 358.30,475.32 358.30,475.08 356.30,475.08 356.30,474.84 354.30,474.84 354.30,474.60 352.30,474.60 352.30,473.83 350.00,473.83 350.00,473.07 347.70,473.07 347.70,472.30 345.40,472.30 345.40,471.55 343.45,471.55 343.45,470.80 341.50,470.80 341.50,469.45 339.60,469.45 339.60,468.10 337.70,468.10 337.70,467.15 335.75,467.15 335.75,466.20 333.80,466.20 333.80,464.65 331.90,464.65 331.90,463.10 330.00,463.10 330.00,460.82 328.55,460.82 328.55,458.55 327.10,458.55 327.10,456.27 325.65,456.27 325.65,454.00 324.20,454.00 324.20,451.80 323.24,451.80 323.24,449.60 322.29,449.60 322.29,447.40 321.33,447.40 321.33,445.20 320.37,445.20 320.37,443.00 319.41,443.00 319.41,440.80 318.46,440.80 318.46,438.60 317.50,438.60 317.50,436.37 316.38,436.37 316.38,434.13 315.27,434.13 315.27,431.90 314.15,431.90 314.15,429.67 313.03,429.67 313.03,427.43 311.92,427.43 311.92,425.20 310.80,425.20 310.80,422.85 309.45,422.85 309.45,420.50 308.10,420.50 308.10,418.15 306.75,418.15 306.75,415.80 305.40,415.80 305.40,413.30" fill="#d8c4a8"/></g>
<g clip-path="url(#c7)"><polygon points="305.40,413.30 307.63,413.30 307.63,415.03 309.87,415.03 309.87,416.77 312.10,416.77 312.10,418.50 313.45,418.50 313.45,420.50 314.80,420.50 314.80,422.50 316.15,422.50 316.15,424.50 317.50,424.50 317.50,426.50 318.46,426.50 318.46,428.61 319.41,428.61 319.41,430.73 320.37,430.73 320.37,432.84 321.33,432.84 321.33,434.96 322.29,434.96 322.29,437.07 323.24,437.07 323.24,439.19 324.20,439.19 324.20,441.30 326.13,441.30 326.13,442.93 328.07,442.93 328.07,444.57 330.00,444.57 330.00,446.20 332.30,446.20 332.30,447.35 334.60,447.35 334.60,448.50 337.30,448.50 337.30,449.65 340.00,449.65 340.00,450.80 343.10,450.80 343.10,453.50 345.13,453.50 345.13,454.00 347.17,454.00 347.17,454.50 349.20,454.50 349.20,455.00 352.30,455.00 352.30,456.20 362.30,456.50 364.32,456.50 364.32,456.75 366.35,456.75 366.35,457.00 368.38,457.00 368.38,457.25 370.40,457.25 370.40,457.50 370.40,458.30 429.00,458.30 431.00,458.30 431.00,460.10 504.60,460.10 504.60,479.20 431.00,479.20 431.00,476.20 429.00,476.20 370.40,476.20 362.30,475.80 362.30,475.56 360.30,475.56 360.30,475.32 358.30,475.32 358.30,475.08 356.30,475.08 356.30,474.84 354.30,474.84 354.30,474.60 352.30,474.60 352.30,473.83 350.00,473.83 350.00,473.07 347.70,473.07 347.70,472.30 345.40,472.30 345.40,471.55 343.45,471.55 343.45,470.80 341.50,470.80 341.50,469.45 339.60,469.45 339.60,468.10 337.70,468.10 337.70,467.15 335.75,467.15 335.75,466.20 333.80,466.20 333.80,464.65 331.90,464.65 331.90,463.10 330.00,463.10 330.00,460.82 328.55,460.82 328.55,458.55 327.10,458.55 327.10,456.27 325.65,456.27 325.65,454.00 324.20,454.00 324.20,451.80 323.24,451.80 323.24,449.60 322.29,449.60 322.29,447.40 321.33,447.40 321.33,445.20 320.37,445.20 320.37,443.00 319.41,443.00 319.41,440.80 318.46,440.80 318.46,438.60 317.50,438.60 317.50,436.37 316.38,436.37 316.38,434.13 315.27,434.13 315.27,431.90 314.15,431.90 314.15,429.67 313.03,429.67 313.03,427.43 311.92,427.43 311.92,425.20 310.80,425.20 310.80,422.85 309.45,422.85 309.45,420.50 308.10,420.50 308.10,418.15 306.75,418.15 306.75,415.80 305.40,415.80 305.40,413.30" fill="#c3a2a6"/></g>
<g clip-path="url(#c7)"><g clip-path="url(#c8)"><polygon points="305.40,413.30 307.63,413.30 307.63,415.03 309.87,415.03 309.87,416.77 312.10,416.77 312.10,418.50 313.45,418.50 313.45,420.50 314.80,420.50 314.80,422.50 316.15,422.50 316.15,424.50 317.50,424.50 317.50,426.50 318.46,426.50 318.46,428.61 319.41,428.61 319.41,430.73 320.37,430.73 320.37,432.84 321.33,432.84 321.33,434.96 322.29,434.96 322.29,437.07 323.24,437.07 323.24,439.19 324.20,439.19 324.20,441.30 326.13,441.30 326.13,442.93 328.07,442.93 328.07,444.57 330.00,444.57 330.00,446.20 332.30,446.20 332.30,447.35 334.60,447.35 334.60,448.50 337.30,448.50 337.30,449.65 340.00,449.65 340.00,450.80 343.10,450.80 343.10,453.50 345.13,453.50 345.13,454.00 347.17,454.00 347.17,454.50 349.20,454.50 349.20,455.00 352.30,455.00 352.30,456.20 362.30,456.50 364.32,456.50 364.32,456.75 366.35,456.75 366.35,457.00 368.38,457.00 368.38,457.25 370.40,457.25 370.40,457.50 370.40,458.30 429.00,458.30 431.00,458.30 431.00,460.10 504.60,460.10 504.60,479.20 431.00,479.20 431.00,476.20 429.00,476.20 370.40,476.20 362.30,475.80 362.30,475.56 360.30,475.56 360.30,475.32 358.30,475.32 358.30,475.08 356.30,475.08 356.30,474.84 354.30,474.84 354.30,474.60 352.30,474.60 352.30,473.83 350.00,473.83 350.00,473.07 347.70,473.07 347.70,472.30 345.40,472.30 345.40,471.55 343.45,471.55 343.45,470.80 341.50,470.80 341.50,469.45 339.60,469.45 339.60,468.10 337.70,468.10 337.70,467.15 335.75,467.15 335.75,466.20 333.80,466.20 333.80,464.65 331.90,464.65 331.90,463.10 330.00,463.10 330.00,460.82 328.55,460.82 328.55,458.55 327.10,458.55 327.10,456.27 325.65,456.27 325.65,454.00 324.20,454.00 324.20,451.80 323.24,451.80 323.24,449.60 322.29,449.60 322.29,447.40 321.33,447.40 321.33,445.20 320.37,445.20 320.37,443.00 319.41,443.00 319.41,440.80 318.46,440.80 318.46,438.60 317.50,438.60 317.50,436.37 316.38,436.37 316.38,434.13 315.27,434.13 315.27,431.90 314.15,431.90 314.15,429.67 313.03,429.67 313.03,427.43 311.92,427.43 311.92,425.20 310.80,425.20 310.80,422.85 309.45,422.85 309.45,420.50 308.10,420.50 308.10,418.15 306.75,418.15 306.75,415.80 305.40,415.80 305.40,413.30" fill="#a89c98"/></g></g>
<polyline points="305.40,413.30 316.80,413.30 318.20,413.30 318.20,415.10 326.90,415.10 328.27,415.10 328.27,416.23 329.63,416.23 329.63,417.37 331.00,417.37 331.00,418.50 331.65,418.50 331.65,420.35 332.30,420.35 332.30,422.20 504.60,422.20" fill="none" stroke="#3fae5a" stroke-width="1.55" stroke-linejoin="miter"/>
<polyline points="305.40,413.30 309.40,413.30 310.80,413.30 310.80,415.10 312.48,415.10 312.48,415.27 314.15,415.27 314.15,415.45 315.82,415.45 315.82,415.62 317.50,415.62 317.50,415.80 319.50,415.80 319.50,417.80 320.98,417.80 320.98,417.94 322.46,417.94 322.46,418.08 323.94,418.08 323.94,418.22 325.42,418.22 325.42,418.36 326.90,418.36 326.90,418.50 328.90,418.50 328.90,419.80 329.60,419.80 329.60,421.50 330.30,421.50 330.30,423.20 337.70,423.20 339.70,423.20 339.70,425.20 341.27,425.20 341.27,425.43 342.83,425.43 342.83,425.67 344.40,425.67 344.40,425.90 346.10,425.90 346.10,427.55 347.80,427.55 347.80,429.20 394.30,429.40 394.30,432.40 465.80,432.40 465.80,436.20 468.80,436.20 468.80,439.20 504.60,439.20" fill="none" stroke="#1d5c8e" stroke-width="1.55" stroke-linejoin="miter"/>
<polyline points="305.40,413.30 306.50,413.30 306.50,415.03 307.60,415.03 307.60,416.77 308.70,416.77 308.70,418.50 310.30,418.50 310.30,420.27 311.90,420.27 311.90,422.03 313.50,422.03 313.50,423.80 314.40,423.80 314.40,425.40 315.30,425.40 315.30,427.00 316.20,427.00 316.20,428.60 316.72,428.60 316.72,430.08 317.24,430.08 317.24,431.56 317.76,431.56 317.76,433.04 318.28,433.04 318.28,434.52 318.80,434.52 318.80,436.00 319.70,436.00 319.70,437.77 320.60,437.77 320.60,439.53 321.50,439.53 321.50,441.30 322.52,441.30 322.52,443.00 323.55,443.00 323.55,444.70 324.57,444.70 324.57,446.40 325.60,446.40 325.60,448.10 326.93,448.10 326.93,449.57 328.27,449.57 328.27,451.03 329.60,451.03 329.60,452.50 330.95,452.50 330.95,453.95 332.30,453.95 332.30,455.40 334.60,455.40 334.60,457.30 336.15,457.30 336.15,457.70 337.70,457.70 337.70,458.10 340.00,458.10 340.00,459.20 341.15,459.20 341.15,460.55 342.30,460.55 342.30,461.90 343.85,461.90 343.85,462.30 345.40,462.30 345.40,462.70 346.95,462.70 346.95,463.10 348.50,463.10 348.50,463.50 350.00,463.50 350.00,464.15 351.50,464.15 351.50,464.80 362.80,464.80 363.30,465.30 370.40,465.30 370.40,466.60 429.00,466.60 430.00,466.60 430.00,468.10 431.00,468.10 431.00,469.60 504.60,469.60" fill="none" stroke="#d0273f" stroke-width="1.55" stroke-linejoin="miter"/>
<line x1="299.50" y1="408.00" x2="299.50" y2="532.35" stroke="#2a2a2a" stroke-width="1.0"/>
<line x1="299.00" y1="531.85" x2="510.80" y2="531.85" stroke="#2a2a2a" stroke-width="1.3"/>
<path d="M296.20 526.50H299.50M297.50 524.24H299.50M297.50 521.98H299.50M297.50 519.72H299.50M297.50 517.46H299.50M296.20 515.20H299.50M297.50 512.94H299.50M297.50 510.68H299.50M297.50 508.42H299.50M297.50 506.16H299.50M296.20 503.90H299.50M297.50 501.64H299.50M297.50 499.38H299.50M297.50 497.12H299.50M297.50 494.86H299.50M296.20 492.60H299.50M297.50 490.34H299.50M297.50 488.08H299.50M297.50 485.82H299.50M297.50 483.56H299.50M296.20 481.30H299.50M297.50 479.04H299.50M297.50 476.78H299.50M297.50 474.52H299.50M297.50 472.26H299.50M296.20 470.00H299.50M297.50 467.74H299.50M297.50 465.48H299.50M297.50 463.22H299.50M297.50 460.96H299.50M296.20 458.70H299.50M297.50 456.44H299.50M297.50 454.18H299.50M297.50 451.92H299.50M297.50 449.66H299.50M296.20 447.40H299.50M297.50 445.14H299.50M297.50 442.88H299.50M297.50 440.62H299.50M297.50 438.36H299.50M296.20 436.10H299.50M297.50 433.84H299.50M297.50 431.58H299.50M297.50 429.32H299.50M297.50 427.06H299.50M296.20 424.80H299.50M297.50 422.54H299.50M297.50 420.28H299.50M297.50 418.02H299.50M297.50 415.76H299.50M296.20 413.50H299.50M305.30 531.85V535.45M315.00 531.85V534.05M324.70 531.85V534.05M334.40 531.85V534.05M344.10 531.85V535.45M353.80 531.85V534.05M363.49 531.85V534.05M373.19 531.85V534.05M382.89 531.85V535.45M392.59 531.85V534.05M402.29 531.85V534.05M411.99 531.85V534.05M421.69 531.85V535.45M431.39 531.85V534.05M441.09 531.85V534.05M450.79 531.85V534.05M460.48 531.85V535.45M470.18 531.85V534.05M479.88 531.85V534.05M489.58 531.85V534.05M499.28 531.85V535.45M505.60 531.85V535.25" stroke="#2a2a2a" stroke-width="1" fill="none"/>
<text x="294.20" y="529.80" font-size="8.8" text-anchor="end" >0.0</text>
<text x="294.20" y="518.50" font-size="8.8" text-anchor="end" >0.1</text>
<text x="294.20" y="507.20" font-size="8.8" text-anchor="end" >0.2</text>
<text x="294.20" y="495.90" font-size="8.8" text-anchor="end" >0.3</text>
<text x="294.20" y="484.60" font-size="8.8" text-anchor="end" >0.4</text>
<text x="294.20" y="473.30" font-size="8.8" text-anchor="end" >0.5</text>
<text x="294.20" y="462.00" font-size="8.8" text-anchor="end" >0.6</text>
<text x="294.20" y="450.70" font-size="8.8" text-anchor="end" >0.7</text>
<text x="294.20" y="439.40" font-size="8.8" text-anchor="end" >0.8</text>
<text x="294.20" y="428.10" font-size="8.8" text-anchor="end" >0.9</text>
<text x="294.20" y="416.80" font-size="8.8" text-anchor="end" >1.0</text>
<text x="305.40" y="543.80" font-size="9.0" text-anchor="middle" >0</text>
<text x="344.20" y="543.80" font-size="9.0" text-anchor="middle" >12</text>
<text x="382.99" y="543.80" font-size="9.0" text-anchor="middle" >24</text>
<text x="421.79" y="543.80" font-size="9.0" text-anchor="middle" >36</text>
<text x="460.58" y="543.80" font-size="9.0" text-anchor="middle" >48</text>
<text x="499.38" y="543.80" font-size="9.0" text-anchor="middle" >60</text>
<text x="7.30" y="19.60" font-size="12.6" font-weight="bold" style="fill:#111;stroke:#111;stroke-width:0.7px">A</text>
<text x="271.00" y="19.80" font-size="12.6" font-weight="bold" style="fill:#111;stroke:#111;stroke-width:0.7px">B</text>
<text x="8.20" y="218.30" font-size="12.6" font-weight="bold" style="fill:#111;stroke:#111;stroke-width:0.7px">C</text>
<text x="271.60" y="218.10" font-size="12.6" font-weight="bold" style="fill:#111;stroke:#111;stroke-width:0.7px">D</text>
<text x="9.40" y="412.90" font-size="12.6" font-weight="bold" style="fill:#111;stroke:#111;stroke-width:0.7px">E</text>
<text x="271.00" y="412.70" font-size="12.6" font-weight="bold" style="fill:#111;stroke:#111;stroke-width:0.7px">F</text>
<text transform="translate(18.60,41.00) rotate(-90)" font-size="10.2" style="stroke-width:0.25px" textLength="13.00" lengthAdjust="spacingAndGlyphs">vival</text>
<text transform="translate(18.60,121.00) rotate(-90)" font-size="10.2" style="stroke-width:0.25px" textLength="61.00" lengthAdjust="spacingAndGlyphs">Pr ogression-free sur</text>
<text transform="translate(278.00,54.70) rotate(-90)" font-size="10.2" style="stroke-width:0.25px" textLength="14.70" lengthAdjust="spacingAndGlyphs">vival</text>
<text transform="translate(278.00,90.00) rotate(-90)" font-size="10.2" style="stroke-width:0.25px" textLength="26.00" lengthAdjust="spacingAndGlyphs">erall sur</text>
<text transform="translate(278.00,102.80) rotate(-90)" font-size="10.2" style="stroke-width:0.25px" textLength="9.40" lengthAdjust="spacingAndGlyphs">Ov</text>
<text transform="translate(19.80,242.00) rotate(-90)" font-size="10.2" style="stroke-width:0.25px" textLength="13.00" lengthAdjust="spacingAndGlyphs">vival</text>
<text transform="translate(19.80,323.00) rotate(-90)" font-size="10.2" style="stroke-width:0.25px" textLength="62.00" lengthAdjust="spacingAndGlyphs">Pr ogression-free sur</text>
<text transform="translate(278.20,248.00) rotate(-90)" font-size="10.2" style="stroke-width:0.25px" textLength="14.00" lengthAdjust="spacingAndGlyphs">vival</text>
<text transform="translate(278.20,281.00) rotate(-90)" font-size="10.2" style="stroke-width:0.25px" textLength="29.00" lengthAdjust="spacingAndGlyphs">erall sur</text>
<text transform="translate(278.20,296.00) rotate(-90)" font-size="10.2" style="stroke-width:0.25px" textLength="11.00" lengthAdjust="spacingAndGlyphs">Ov</text>
<text transform="translate(18.60,435.00) rotate(-90)" font-size="10.2" style="stroke-width:0.25px" textLength="13.00" lengthAdjust="spacingAndGlyphs">vival</text>
<text transform="translate(18.60,514.00) rotate(-90)" font-size="10.2" style="stroke-width:0.25px" textLength="61.00" lengthAdjust="spacingAndGlyphs">Pr ogression-free sur</text>
<text transform="translate(277.80,446.00) rotate(-90)" font-size="10.2" style="stroke-width:0.25px" textLength="12.00" lengthAdjust="spacingAndGlyphs">ival</text>
<text transform="translate(277.80,454.50) rotate(-90)" font-size="10.2" style="stroke-width:0.25px" textLength="5.50" lengthAdjust="spacingAndGlyphs">rv</text>
<text transform="translate(277.80,486.00) rotate(-90)" font-size="10.2" style="stroke-width:0.25px" textLength="28.00" lengthAdjust="spacingAndGlyphs">erall su</text>
<text transform="translate(277.80,499.00) rotate(-90)" font-size="10.2" style="stroke-width:0.25px" textLength="11.00" lengthAdjust="spacingAndGlyphs">Ov</text>
<text x="116.50" y="162.80" font-size="11" style="stroke-width:0.25px" textLength="39.60" lengthAdjust="spacingAndGlyphs">Months sinc</text>
<text x="170.60" y="162.80" font-size="11" style="stroke-width:0.25px" textLength="37.40" lengthAdjust="spacingAndGlyphs">e diagnosis</text>
<text x="370.20" y="163.30" font-size="11" style="stroke-width:0.25px" textLength="39.60" lengthAdjust="spacingAndGlyphs">Months sinc</text>
<text x="424.80" y="163.30" font-size="11" style="stroke-width:0.25px" textLength="33.50" lengthAdjust="spacingAndGlyphs">e diagnosi</text>
<text x="471.00" y="163.30" font-size="11" style="stroke-width:0.25px" textLength="3.90" lengthAdjust="spacingAndGlyphs">s</text>
<text x="116.50" y="361.30" font-size="11" style="stroke-width:0.25px" textLength="39.70" lengthAdjust="spacingAndGlyphs">Months sinc</text>
<text x="171.20" y="361.30" font-size="11" style="stroke-width:0.25px" textLength="36.90" lengthAdjust="spacingAndGlyphs">e diagnosis</text>
<text x="369.50" y="361.30" font-size="11" style="stroke-width:0.25px" textLength="39.70" lengthAdjust="spacingAndGlyphs">Months sinc</text>
<text x="423.70" y="361.30" font-size="11" style="stroke-width:0.25px" textLength="33.50" lengthAdjust="spacingAndGlyphs">e diagnosi</text>
<text x="470.30" y="361.30" font-size="11" style="stroke-width:0.25px" textLength="4.20" lengthAdjust="spacingAndGlyphs">s</text>
<text x="119.20" y="554.10" font-size="11" style="stroke-width:0.25px" textLength="39.70" lengthAdjust="spacingAndGlyphs">Months sinc</text>
<text x="173.50" y="554.10" font-size="11" style="stroke-width:0.25px" textLength="36.90" lengthAdjust="spacingAndGlyphs">e diagnosis</text>
<text x="371.80" y="556.00" font-size="11" style="stroke-width:0.25px" textLength="39.20" lengthAdjust="spacingAndGlyphs">Months sinc</text>
<text x="426.50" y="556.00" font-size="11" style="stroke-width:0.25px" textLength="33.00" lengthAdjust="spacingAndGlyphs">e diagnosi</text>
<text x="472.60" y="556.00" font-size="11" style="stroke-width:0.25px" textLength="3.70" lengthAdjust="spacingAndGlyphs">s</text>
<text x="213.80" y="28.20" font-size="8.8" font-style="italic">P</text>
<rect x="221.80" y="23.90" width="5.4" height="1.0" fill="#333"/>
<rect x="221.80" y="26.00" width="5.4" height="1.0" fill="#333"/>
<text x="229.80" y="28.50" font-size="8.5">0.80</text>
<text x="470.40" y="25.60" font-size="8.8" font-style="italic">P</text>
<rect x="478.40" y="21.30" width="5.4" height="1.0" fill="#333"/>
<rect x="478.40" y="23.40" width="5.4" height="1.0" fill="#333"/>
<text x="486.40" y="25.90" font-size="8.5">0.81</text>
<text x="206.60" y="223.70" font-size="8.8" font-style="italic">P</text>
<rect x="214.60" y="219.40" width="5.4" height="1.0" fill="#333"/>
<rect x="214.60" y="221.50" width="5.4" height="1.0" fill="#333"/>
<text x="222.60" y="224.00" font-size="8.5">0.034</text>
<text x="458.80" y="222.50" font-size="8.8" font-style="italic">P</text>
<rect x="466.80" y="218.20" width="5.4" height="1.0" fill="#333"/>
<rect x="466.80" y="220.30" width="5.4" height="1.0" fill="#333"/>
<text x="474.80" y="222.80" font-size="8.5">0.027</text>
<text x="198.20" y="522.70" font-size="8.8" font-style="italic">P</text>
<text x="205.10" y="522.70" font-size="8.8">&lt;</text>
<text x="212.80" y="522.70" font-size="8.8">0.0001</text>
<text x="453.40" y="526.80" font-size="8.8" font-style="italic">P</text>
<text x="460.30" y="526.80" font-size="8.8">&lt;</text>
<text x="468.00" y="526.80" font-size="8.8">0.0001</text>
<line x1="51.20" y1="116.30" x2="64.20" y2="116.30" stroke="#1d5c8e" stroke-width="1.2"/>
<text x="68.20" y="119.10" font-size="8.3" text-anchor="start" >UK</text>
<line x1="51.20" y1="127.80" x2="64.20" y2="127.80" stroke="#d0273f" stroke-width="1.2"/>
<text x="68.20" y="130.60" font-size="8.3" text-anchor="start" >US</text>
<line x1="307.20" y1="116.10" x2="320.20" y2="116.10" stroke="#1d5c8e" stroke-width="1.2"/>
<text x="324.20" y="118.90" font-size="8.3" text-anchor="start" >UK</text>
<line x1="307.20" y1="127.80" x2="320.20" y2="127.80" stroke="#d0273f" stroke-width="1.2"/>
<text x="324.20" y="130.60" font-size="8.3" text-anchor="start" >US</text>
<line x1="51.20" y1="314.60" x2="64.20" y2="314.60" stroke="#1d5c8e" stroke-width="1.2"/>
<text x="68.20" y="317.40" font-size="8.5" textLength="39.60" lengthAdjust="spacingAndGlyphs">CD4 ≥100</text>
<line x1="51.20" y1="325.70" x2="64.20" y2="325.70" stroke="#d0273f" stroke-width="1.2"/>
<text x="68.20" y="328.50" font-size="8.5" textLength="40.40" lengthAdjust="spacingAndGlyphs">CD4 &lt; 100</text>
<line x1="307.80" y1="314.10" x2="320.80" y2="314.10" stroke="#1d5c8e" stroke-width="1.2"/>
<text x="324.80" y="316.90" font-size="8.5" textLength="40.30" lengthAdjust="spacingAndGlyphs">CD4 ≥ 100</text>
<line x1="307.80" y1="325.80" x2="320.80" y2="325.80" stroke="#d0273f" stroke-width="1.2"/>
<text x="324.80" y="328.60" font-size="8.5" textLength="40.30" lengthAdjust="spacingAndGlyphs">CD4 &lt; 100</text>
<line x1="51.20" y1="492.70" x2="64.20" y2="492.70" stroke="#3fae5a" stroke-width="1.2"/>
<text x="68.20" y="495.50" font-size="8.3" text-anchor="start" >Low</text>
<line x1="51.20" y1="504.25" x2="64.20" y2="504.25" stroke="#1d5c8e" stroke-width="1.2"/>
<text x="68.20" y="507.05" font-size="8.3" text-anchor="start" >Intermediate</text>
<line x1="51.20" y1="515.80" x2="64.20" y2="515.80" stroke="#d0273f" stroke-width="1.2"/>
<text x="68.20" y="518.60" font-size="8.3" text-anchor="start" >High</text>
<line x1="307.20" y1="498.30" x2="320.20" y2="498.30" stroke="#3fae5a" stroke-width="1.2"/>
<text x="324.20" y="501.10" font-size="8.3" text-anchor="start" >Low</text>
<line x1="307.20" y1="509.65" x2="320.20" y2="509.65" stroke="#1d5c8e" stroke-width="1.2"/>
<text x="324.20" y="512.45" font-size="8.3" text-anchor="start" >Intermediate</text>
<line x1="307.20" y1="521.00" x2="320.20" y2="521.00" stroke="#d0273f" stroke-width="1.2"/>
<text x="324.20" y="523.80" font-size="8.3" text-anchor="start" >High</text>
<rect x="58.5" y="279.5" width="4.7" height="4.7" fill="#1f4f8a"/>
<rect x="58.5" y="288.3" width="4.7" height="4.7" fill="#c8102e"/>
<text x="34.90" y="171.00" font-size="9.6" font-style="italic">N</text>
<rect x="34.00" y="175.20" width="4.8" height="4.8" fill="#1f4f8a"/>
<text x="51.20" y="180.50" font-size="9.2" text-anchor="middle" >140</text>
<text x="89.80" y="180.50" font-size="9.2" text-anchor="middle" >84</text>
<text x="128.40" y="180.50" font-size="9.2" text-anchor="middle" >67</text>
<text x="167.00" y="180.50" font-size="9.2" text-anchor="middle" >54</text>
<text x="205.60" y="180.50" font-size="9.2" text-anchor="middle" >44</text>
<text x="244.20" y="180.50" font-size="9.2" text-anchor="middle" >28</text>
<rect x="34.00" y="185.20" width="4.8" height="4.8" fill="#c8102e"/>
<text x="51.20" y="190.50" font-size="9.2" text-anchor="middle" >109</text>
<text x="89.80" y="190.50" font-size="9.2" text-anchor="middle" >63</text>
<text x="128.40" y="190.50" font-size="9.2" text-anchor="middle" >54</text>
<text x="167.00" y="190.50" font-size="9.2" text-anchor="middle" >53</text>
<text x="205.60" y="190.50" font-size="9.2" text-anchor="middle" >43</text>
<text x="244.20" y="190.50" font-size="9.2" text-anchor="middle" >35</text>
<text x="290.90" y="171.00" font-size="9.6" font-style="italic">N</text>
<rect x="290.00" y="175.20" width="4.8" height="4.8" fill="#1f4f8a"/>
<text x="307.20" y="180.50" font-size="9.2" text-anchor="middle" >140</text>
<text x="345.80" y="180.50" font-size="9.2" text-anchor="middle" >93</text>
<text x="384.40" y="180.50" font-size="9.2" text-anchor="middle" >75</text>
<text x="423.00" y="180.50" font-size="9.2" text-anchor="middle" >59</text>
<text x="461.60" y="180.50" font-size="9.2" text-anchor="middle" >48</text>
<text x="491.80" y="180.50" font-size="9.0" textLength="14.00" lengthAdjust="spacingAndGlyphs">32</text>
<rect x="290.00" y="185.20" width="4.8" height="4.8" fill="#c8102e"/>
<text x="307.20" y="190.50" font-size="9.2" text-anchor="middle" >109</text>
<text x="345.80" y="190.50" font-size="9.2" text-anchor="middle" >67</text>
<text x="384.40" y="190.50" font-size="9.2" text-anchor="middle" >56</text>
<text x="423.00" y="190.50" font-size="9.2" text-anchor="middle" >55</text>
<text x="461.60" y="190.50" font-size="9.2" text-anchor="middle" >45</text>
<text x="500.20" y="190.50" font-size="9.2" text-anchor="middle" >37</text>
<text x="34.90" y="368.90" font-size="9.6" font-style="italic">N</text>
<rect x="34.00" y="373.50" width="4.8" height="4.8" fill="#1f4f8a"/>
<text x="51.20" y="378.80" font-size="9.2" text-anchor="middle" >170</text>
<text x="89.80" y="378.80" font-size="9.2" text-anchor="middle" >110</text>
<text x="128.40" y="378.80" font-size="9.2" text-anchor="middle" >90</text>
<text x="167.00" y="378.80" font-size="9.2" text-anchor="middle" >80</text>
<text x="205.60" y="378.80" font-size="9.2" text-anchor="middle" >67</text>
<text x="244.20" y="378.80" font-size="9.2" text-anchor="middle" >51</text>
<rect x="34.00" y="383.40" width="4.8" height="4.8" fill="#c8102e"/>
<text x="51.20" y="388.70" font-size="9.2" text-anchor="middle" >62</text>
<text x="89.80" y="388.70" font-size="9.2" text-anchor="middle" >30</text>
<text x="128.40" y="388.70" font-size="9.2" text-anchor="middle" >27</text>
<text x="167.00" y="388.70" font-size="9.2" text-anchor="middle" >23</text>
<text x="205.60" y="388.70" font-size="9.2" text-anchor="middle" >18</text>
<text x="244.20" y="388.70" font-size="9.2" text-anchor="middle" >11</text>
<text x="291.50" y="369.00" font-size="9.6" font-style="italic">N</text>
<rect x="290.60" y="373.30" width="4.8" height="4.8" fill="#1f4f8a"/>
<text x="307.80" y="378.60" font-size="9.2" text-anchor="middle" >170</text>
<text x="346.40" y="378.60" font-size="9.2" text-anchor="middle" >118</text>
<text x="385.00" y="378.60" font-size="9.2" text-anchor="middle" >97</text>
<text x="423.60" y="378.60" font-size="9.2" text-anchor="middle" >84</text>
<text x="462.20" y="378.60" font-size="9.2" text-anchor="middle" >71</text>
<text x="500.80" y="378.60" font-size="9.2" text-anchor="middle" >55</text>
<rect x="290.60" y="383.20" width="4.8" height="4.8" fill="#c8102e"/>
<text x="307.80" y="388.50" font-size="9.2" text-anchor="middle" >62</text>
<text x="346.40" y="388.50" font-size="9.2" text-anchor="middle" >34</text>
<text x="385.00" y="388.50" font-size="9.2" text-anchor="middle" >29</text>
<text x="423.60" y="388.50" font-size="9.2" text-anchor="middle" >25</text>
<text x="462.20" y="388.50" font-size="9.2" text-anchor="middle" >20</text>
<text x="500.80" y="388.50" font-size="9.2" text-anchor="middle" >13</text>
<text x="34.90" y="559.00" font-size="9.6" font-style="italic">N</text>
<rect x="34.00" y="562.90" width="4.8" height="4.8" fill="#3db34a"/>
<text x="51.20" y="568.20" font-size="9.2" text-anchor="middle" >25</text>
<text x="89.80" y="568.20" font-size="9.2" text-anchor="middle" >20</text>
<text x="128.40" y="568.20" font-size="9.2" text-anchor="middle" >18</text>
<text x="167.00" y="568.20" font-size="9.2" text-anchor="middle" >16</text>
<text x="205.60" y="568.20" font-size="9.2" text-anchor="middle" >10</text>
<text x="244.20" y="568.20" font-size="9.2" text-anchor="middle" >8</text>
<rect x="34.00" y="572.70" width="4.8" height="4.8" fill="#1f4f8a"/>
<text x="51.20" y="578.00" font-size="9.2" text-anchor="middle" >73</text>
<text x="89.80" y="578.00" font-size="9.2" text-anchor="middle" >56</text>
<text x="128.40" y="578.00" font-size="9.2" text-anchor="middle" >45</text>
<text x="167.00" y="578.00" font-size="9.2" text-anchor="middle" >38</text>
<text x="205.60" y="578.00" font-size="9.2" text-anchor="middle" >32</text>
<text x="244.20" y="578.00" font-size="9.2" text-anchor="middle" >21</text>
<rect x="34.00" y="582.80" width="4.8" height="4.8" fill="#c8102e"/>
<text x="51.20" y="588.10" font-size="9.2" text-anchor="middle" >138</text>
<text x="89.80" y="588.10" font-size="9.2" text-anchor="middle" >64</text>
<text x="128.40" y="588.10" font-size="9.2" text-anchor="middle" >52</text>
<text x="167.00" y="588.10" font-size="9.2" text-anchor="middle" >48</text>
<text x="205.60" y="588.10" font-size="9.2" text-anchor="middle" >40</text>
<text x="244.20" y="588.10" font-size="9.2" text-anchor="middle" >31</text>
<text x="291.40" y="562.80" font-size="9.6" font-style="italic">N</text>
<rect x="290.50" y="567.40" width="4.8" height="4.8" fill="#3db34a"/>
<text x="307.70" y="572.70" font-size="9.2" text-anchor="middle" >25</text>
<text x="346.30" y="572.70" font-size="9.2" text-anchor="middle" >21</text>
<text x="384.90" y="572.70" font-size="9.2" text-anchor="middle" >20</text>
<text x="423.50" y="572.70" font-size="9.2" text-anchor="middle" >18</text>
<text x="462.10" y="572.70" font-size="9.2" text-anchor="middle" >12</text>
<text x="500.70" y="572.70" font-size="9.2" text-anchor="middle" >10</text>
<rect x="290.50" y="575.60" width="4.8" height="4.8" fill="#1f4f8a"/>
<text x="307.70" y="580.90" font-size="9.2" text-anchor="middle" >73</text>
<text x="346.30" y="580.90" font-size="9.2" text-anchor="middle" >60</text>
<text x="384.90" y="580.90" font-size="9.2" text-anchor="middle" >48</text>
<text x="423.50" y="580.90" font-size="9.2" text-anchor="middle" >40</text>
<text x="462.10" y="580.90" font-size="9.2" text-anchor="middle" >34</text>
<text x="500.70" y="580.90" font-size="9.2" text-anchor="middle" >23</text>
<rect x="290.50" y="584.00" width="4.8" height="4.8" fill="#c8102e"/>
<text x="307.70" y="589.30" font-size="9.2" text-anchor="middle" >138</text>
<text x="346.30" y="589.30" font-size="9.2" text-anchor="middle" >71</text>
<text x="384.90" y="589.30" font-size="9.2" text-anchor="middle" >55</text>
<text x="423.50" y="589.30" font-size="9.2" text-anchor="middle" >50</text>
<text x="462.10" y="589.30" font-size="9.2" text-anchor="middle" >42</text>
<text x="500.70" y="589.30" font-size="9.2" text-anchor="middle" >33</text>
</svg><div id="bd"></div></div></body></html>
